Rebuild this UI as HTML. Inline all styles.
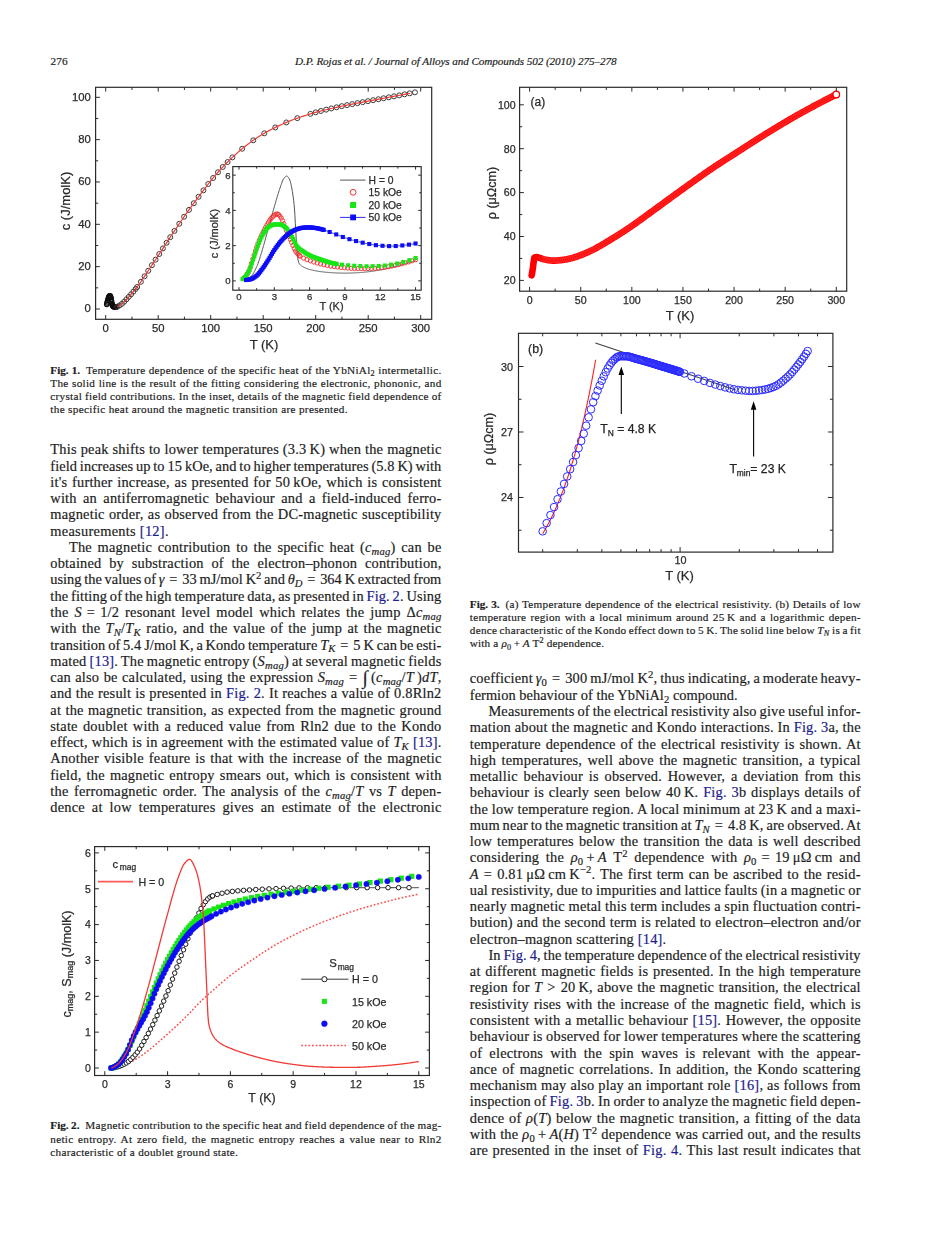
<!DOCTYPE html>
<html><head><meta charset="utf-8"><title>page 276</title>
<style>
html,body{margin:0;padding:0;background:#fff;}
body{width:926px;height:1234px;position:relative;overflow:hidden;font-family:"Liberation Serif",serif;color:#1c1c1c;}
.ln,.cp,.hd{position:absolute;white-space:nowrap;font-kerning:normal;-webkit-text-stroke:0.18px currentColor;}
.ln{font-size:14.4px;line-height:16.0px;height:16.0px;}
.cp{font-size:11.2px;line-height:13.0px;height:13.0px;}
.hd{font-size:11.2px;line-height:13.0px;height:13.0px;}
.lk{color:#20208c;}
b{letter-spacing:0;}
sub,sup{font-size:74%;line-height:0;position:relative;vertical-align:baseline;font-style:inherit;}
sub{top:0.28em;}
sup{top:-0.5em;}
.int{font-size:135%;line-height:0;position:relative;top:0.12em;}
svg{position:absolute;left:0;top:0;}
</style></head>
<body>
<svg width="926" height="1234" viewBox="0 0 926 1234"><defs><filter id="bl" x="-2%" y="-2%" width="104%" height="104%"><feGaussianBlur stdDeviation="0.45"/></filter></defs><g filter="url(#bl)">
<g fill="none" stroke="#111" stroke-width="1.1"><circle cx="106.75" cy="304.34" r="2.3"/><circle cx="107.12" cy="302.96" r="2.3"/><circle cx="107.48" cy="301.63" r="2.3"/><circle cx="107.85" cy="300.35" r="2.3"/><circle cx="108.22" cy="299" r="2.3"/><circle cx="108.59" cy="297.77" r="2.3"/><circle cx="108.95" cy="296.96" r="2.3"/><circle cx="109.32" cy="296.35" r="2.3"/><circle cx="109.69" cy="295.95" r="2.3"/><circle cx="110.06" cy="295.94" r="2.3"/><circle cx="110.43" cy="296.54" r="2.3"/><circle cx="110.79" cy="297.52" r="2.3"/><circle cx="111.16" cy="298.91" r="2.3"/><circle cx="111.53" cy="301.32" r="2.3"/><circle cx="111.9" cy="303.53" r="2.3"/><circle cx="112.26" cy="304.64" r="2.3"/><circle cx="112.63" cy="305.45" r="2.3"/><circle cx="113" cy="305.98" r="2.3"/><circle cx="113.37" cy="306.3" r="2.3"/><circle cx="113.73" cy="306.54" r="2.3"/><circle cx="114.1" cy="306.67" r="2.3"/><circle cx="114.47" cy="306.74" r="2.3"/><circle cx="114.84" cy="306.79" r="2.3"/><circle cx="115.2" cy="306.83" r="2.3"/><circle cx="115.57" cy="306.86" r="2.3"/><circle cx="115.94" cy="306.88" r="2.3"/></g>
<g fill="none" stroke="#3a3a3a" stroke-width="1.0"><circle cx="117.25" cy="306.71" r="2.5"/><circle cx="119.56" cy="305.47" r="2.5"/><circle cx="121.87" cy="303.83" r="2.5"/><circle cx="124.18" cy="301.71" r="2.5"/><circle cx="126.49" cy="299.27" r="2.5"/><circle cx="128.8" cy="296.84" r="2.5"/><circle cx="131.11" cy="294.29" r="2.5"/><circle cx="133.42" cy="291.64" r="2.5"/><circle cx="135.73" cy="288.86" r="2.5"/><circle cx="137.2" cy="286.98" r="2.5"/><circle cx="140.88" cy="281.84" r="2.5"/><circle cx="144.55" cy="276.3" r="2.5"/><circle cx="148.22" cy="270.75" r="2.5"/><circle cx="151.9" cy="265.22" r="2.5"/><circle cx="155.57" cy="259.65" r="2.5"/><circle cx="159.25" cy="254.05" r="2.5"/><circle cx="162.93" cy="248.4" r="2.5"/><circle cx="166.6" cy="242.76" r="2.5"/><circle cx="170.28" cy="237.18" r="2.5"/><circle cx="174.48" cy="230.88" r="2.5"/><circle cx="179.31" cy="223.74" r="2.5"/><circle cx="184.13" cy="216.74" r="2.5"/><circle cx="188.96" cy="209.89" r="2.5"/><circle cx="193.79" cy="203.25" r="2.5"/><circle cx="198.62" cy="196.78" r="2.5"/><circle cx="203.45" cy="190.33" r="2.5"/><circle cx="208.28" cy="183.97" r="2.5"/><circle cx="213.11" cy="177.97" r="2.5"/><circle cx="217.94" cy="172.27" r="2.5"/><circle cx="222.77" cy="166.96" r="2.5"/><circle cx="227.6" cy="162.02" r="2.5"/><circle cx="232.43" cy="157.37" r="2.5"/><circle cx="242.2" cy="148.74" r="2.5"/><circle cx="253.23" cy="140.33" r="2.5"/><circle cx="264.25" cy="133.31" r="2.5"/><circle cx="275.28" cy="127.43" r="2.5"/><circle cx="286.3" cy="122.44" r="2.5"/><circle cx="297.32" cy="118.15" r="2.5"/><circle cx="310.45" cy="113.85" r="2.5"/><circle cx="315.67" cy="112.34" r="2.5"/><circle cx="320.9" cy="110.96" r="2.5"/><circle cx="326.12" cy="109.67" r="2.5"/><circle cx="331.35" cy="108.44" r="2.5"/><circle cx="336.57" cy="107.28" r="2.5"/><circle cx="341.79" cy="106.17" r="2.5"/><circle cx="347.02" cy="105.12" r="2.5"/><circle cx="352.24" cy="104.11" r="2.5"/><circle cx="357.46" cy="103.13" r="2.5"/><circle cx="362.69" cy="102.15" r="2.5"/><circle cx="367.91" cy="101.17" r="2.5"/><circle cx="373.13" cy="100.18" r="2.5"/><circle cx="378.36" cy="99.22" r="2.5"/><circle cx="383.58" cy="98.26" r="2.5"/><circle cx="388.81" cy="97.29" r="2.5"/><circle cx="394.03" cy="96.32" r="2.5"/><circle cx="399.25" cy="95.33" r="2.5"/><circle cx="404.48" cy="94.34" r="2.5"/><circle cx="409.7" cy="93.33" r="2.5"/><circle cx="414.93" cy="92.32" r="2.5"/></g>
<polyline points="117.25,306.71 119.36,305.61 121.47,304.12 123.57,302.32 125.68,300.12 127.79,297.92 129.9,295.65 132,293.27 134.11,290.82 136.22,288.25 138.33,285.47 140.43,282.48 142.54,279.35 144.65,276.15 146.76,272.95 148.86,269.79 150.97,266.62 153.08,263.44 155.19,260.24 157.29,257.03 159.4,253.82 161.51,250.58 163.62,247.34 165.72,244.1 167.83,240.88 169.94,237.69 172.05,234.52 174.15,231.36 176.26,228.22 178.37,225.11 180.48,222.03 182.58,218.98 184.69,215.94 186.8,212.94 188.91,209.97 191.01,207.05 193.12,204.17 195.23,201.32 197.34,198.5 199.44,195.69 201.55,192.88 203.66,190.06 205.77,187.26 207.87,184.5 209.98,181.81 212.09,179.21 214.2,176.66 216.31,174.17 218.41,171.74 220.52,169.38 222.63,167.11 224.74,164.91 226.84,162.77 228.95,160.69 231.06,158.67 233.17,156.68 235.27,154.75 237.38,152.86 239.49,151.02 241.6,149.24 243.7,147.52 245.81,145.84 247.92,144.2 250.03,142.62 252.13,141.1 254.24,139.63 256.35,138.21 258.46,136.84 260.56,135.52 262.67,134.24 264.78,133 266.89,131.81 268.99,130.65 271.1,129.54 273.21,128.46 275.32,127.41 277.42,126.4 279.53,125.41 281.64,124.46 283.75,123.54 285.85,122.63 287.96,121.75 290.07,120.89 292.18,120.06 294.28,119.26 296.39,118.49 298.5,117.74 300.61,117.02 302.71,116.31 304.82,115.63 306.93,114.95 309.04,114.29 311.14,113.64 313.25,113.02 315.36,112.42 317.47,111.85 319.58,111.3 321.68,110.76 323.79,110.23 325.9,109.72 328.01,109.22 330.11,108.72 332.22,108.24 334.33,107.77 336.44,107.31 338.54,106.85 340.65,106.41 342.76,105.98 344.87,105.55 346.97,105.13 349.08,104.72 351.19,104.31 353.3,103.91 355.4,103.51 357.51,103.12 359.62,102.72 361.73,102.33 363.83,101.93 365.94,101.54 368.05,101.14 370.16,100.74 372.26,100.35 374.37,99.95 376.48,99.56 378.59,99.17 380.69,98.79 382.8,98.4 384.91,98.01 387.02,97.63 389.12,97.24 391.23,96.84 393.34,96.45 395.45,96.05 397.55,95.65 399.66,95.25 401.77,94.85 403.88,94.45 405.98,94.05 408.09,93.64 410.2,93.24" fill="none" stroke="#ee3b34" stroke-width="1.2" stroke-linejoin="round" />
<rect x="95.6" y="87.3" width="336.1" height="232" fill="none" stroke="#2a2a2a" stroke-width="1.2"/>
<line x1="105.7" y1="319.3" x2="105.7" y2="315" stroke="#2a2a2a" stroke-width="1.0" /><line x1="158.2" y1="319.3" x2="158.2" y2="315" stroke="#2a2a2a" stroke-width="1.0" /><line x1="210.7" y1="319.3" x2="210.7" y2="315" stroke="#2a2a2a" stroke-width="1.0" /><line x1="263.2" y1="319.3" x2="263.2" y2="315" stroke="#2a2a2a" stroke-width="1.0" /><line x1="315.7" y1="319.3" x2="315.7" y2="315" stroke="#2a2a2a" stroke-width="1.0" /><line x1="368.2" y1="319.3" x2="368.2" y2="315" stroke="#2a2a2a" stroke-width="1.0" /><line x1="420.7" y1="319.3" x2="420.7" y2="315" stroke="#2a2a2a" stroke-width="1.0" />
<line x1="131.95" y1="319.3" x2="131.95" y2="316.7" stroke="#2a2a2a" stroke-width="1.0" /><line x1="184.45" y1="319.3" x2="184.45" y2="316.7" stroke="#2a2a2a" stroke-width="1.0" /><line x1="236.95" y1="319.3" x2="236.95" y2="316.7" stroke="#2a2a2a" stroke-width="1.0" /><line x1="289.45" y1="319.3" x2="289.45" y2="316.7" stroke="#2a2a2a" stroke-width="1.0" /><line x1="341.95" y1="319.3" x2="341.95" y2="316.7" stroke="#2a2a2a" stroke-width="1.0" /><line x1="394.45" y1="319.3" x2="394.45" y2="316.7" stroke="#2a2a2a" stroke-width="1.0" />
<line x1="105.7" y1="87.3" x2="105.7" y2="91.6" stroke="#2a2a2a" stroke-width="1.0" /><line x1="158.2" y1="87.3" x2="158.2" y2="91.6" stroke="#2a2a2a" stroke-width="1.0" /><line x1="210.7" y1="87.3" x2="210.7" y2="91.6" stroke="#2a2a2a" stroke-width="1.0" /><line x1="263.2" y1="87.3" x2="263.2" y2="91.6" stroke="#2a2a2a" stroke-width="1.0" /><line x1="315.7" y1="87.3" x2="315.7" y2="91.6" stroke="#2a2a2a" stroke-width="1.0" /><line x1="368.2" y1="87.3" x2="368.2" y2="91.6" stroke="#2a2a2a" stroke-width="1.0" /><line x1="420.7" y1="87.3" x2="420.7" y2="91.6" stroke="#2a2a2a" stroke-width="1.0" />
<line x1="131.95" y1="87.3" x2="131.95" y2="89.9" stroke="#2a2a2a" stroke-width="1.0" /><line x1="184.45" y1="87.3" x2="184.45" y2="89.9" stroke="#2a2a2a" stroke-width="1.0" /><line x1="236.95" y1="87.3" x2="236.95" y2="89.9" stroke="#2a2a2a" stroke-width="1.0" /><line x1="289.45" y1="87.3" x2="289.45" y2="89.9" stroke="#2a2a2a" stroke-width="1.0" /><line x1="341.95" y1="87.3" x2="341.95" y2="89.9" stroke="#2a2a2a" stroke-width="1.0" /><line x1="394.45" y1="87.3" x2="394.45" y2="89.9" stroke="#2a2a2a" stroke-width="1.0" />
<line x1="95.6" y1="309" x2="99.9" y2="309" stroke="#2a2a2a" stroke-width="1.0" /><line x1="95.6" y1="266.66" x2="99.9" y2="266.66" stroke="#2a2a2a" stroke-width="1.0" /><line x1="95.6" y1="224.32" x2="99.9" y2="224.32" stroke="#2a2a2a" stroke-width="1.0" /><line x1="95.6" y1="181.98" x2="99.9" y2="181.98" stroke="#2a2a2a" stroke-width="1.0" /><line x1="95.6" y1="139.64" x2="99.9" y2="139.64" stroke="#2a2a2a" stroke-width="1.0" /><line x1="95.6" y1="97.3" x2="99.9" y2="97.3" stroke="#2a2a2a" stroke-width="1.0" />
<line x1="95.6" y1="287.83" x2="98.2" y2="287.83" stroke="#2a2a2a" stroke-width="1.0" /><line x1="95.6" y1="245.49" x2="98.2" y2="245.49" stroke="#2a2a2a" stroke-width="1.0" /><line x1="95.6" y1="203.15" x2="98.2" y2="203.15" stroke="#2a2a2a" stroke-width="1.0" /><line x1="95.6" y1="160.81" x2="98.2" y2="160.81" stroke="#2a2a2a" stroke-width="1.0" /><line x1="95.6" y1="118.47" x2="98.2" y2="118.47" stroke="#2a2a2a" stroke-width="1.0" />
<text x="105.7" y="331.6" font-family="Liberation Sans, sans-serif" font-size="11.3" text-anchor="middle" fill="#2a2a2a" stroke="#2a2a2a" stroke-width="0.25" >0</text>
<text x="158.2" y="331.6" font-family="Liberation Sans, sans-serif" font-size="11.3" text-anchor="middle" fill="#2a2a2a" stroke="#2a2a2a" stroke-width="0.25" >50</text>
<text x="210.7" y="331.6" font-family="Liberation Sans, sans-serif" font-size="11.3" text-anchor="middle" fill="#2a2a2a" stroke="#2a2a2a" stroke-width="0.25" >100</text>
<text x="263.2" y="331.6" font-family="Liberation Sans, sans-serif" font-size="11.3" text-anchor="middle" fill="#2a2a2a" stroke="#2a2a2a" stroke-width="0.25" >150</text>
<text x="315.7" y="331.6" font-family="Liberation Sans, sans-serif" font-size="11.3" text-anchor="middle" fill="#2a2a2a" stroke="#2a2a2a" stroke-width="0.25" >200</text>
<text x="368.2" y="331.6" font-family="Liberation Sans, sans-serif" font-size="11.3" text-anchor="middle" fill="#2a2a2a" stroke="#2a2a2a" stroke-width="0.25" >250</text>
<text x="420.7" y="331.6" font-family="Liberation Sans, sans-serif" font-size="11.3" text-anchor="middle" fill="#2a2a2a" stroke="#2a2a2a" stroke-width="0.25" >300</text>
<text x="90.8" y="312.3" font-family="Liberation Sans, sans-serif" font-size="11.3" text-anchor="end" fill="#2a2a2a" stroke="#2a2a2a" stroke-width="0.25" >0</text>
<text x="90.8" y="269.96" font-family="Liberation Sans, sans-serif" font-size="11.3" text-anchor="end" fill="#2a2a2a" stroke="#2a2a2a" stroke-width="0.25" >20</text>
<text x="90.8" y="227.62" font-family="Liberation Sans, sans-serif" font-size="11.3" text-anchor="end" fill="#2a2a2a" stroke="#2a2a2a" stroke-width="0.25" >40</text>
<text x="90.8" y="185.28" font-family="Liberation Sans, sans-serif" font-size="11.3" text-anchor="end" fill="#2a2a2a" stroke="#2a2a2a" stroke-width="0.25" >60</text>
<text x="90.8" y="142.94" font-family="Liberation Sans, sans-serif" font-size="11.3" text-anchor="end" fill="#2a2a2a" stroke="#2a2a2a" stroke-width="0.25" >80</text>
<text x="90.8" y="100.6" font-family="Liberation Sans, sans-serif" font-size="11.3" text-anchor="end" fill="#2a2a2a" stroke="#2a2a2a" stroke-width="0.25" >100</text>
<text x="264" y="348.5" font-family="Liberation Sans, sans-serif" font-size="13" text-anchor="middle" fill="#2a2a2a" stroke="#2a2a2a" stroke-width="0.25" >T (K)</text>
<text transform="translate(69.8 201) rotate(-90)" font-family="Liberation Sans, sans-serif" font-size="13" text-anchor="middle" fill="#2a2a2a" stroke="#2a2a2a" stroke-width="0.25">c (J/molK)</text>
<rect x="232.8" y="166.6" width="188.4" height="123.6" fill="#fff" stroke="#2a2a2a" stroke-width="1.15"/>
<polyline points="244.88,279.14 245.31,279.12 245.74,279.06 246.17,278.97 246.6,278.85 247.02,278.69 247.45,278.51 247.88,278.31 248.31,278.08 248.73,277.84 249.16,277.58 249.59,277.3 250.02,277.02 250.45,276.72 250.87,276.42 251.3,276.05 251.73,275.61 252.16,275.09 252.58,274.51 253.01,273.86 253.44,273.16 253.87,272.41 254.3,271.62 254.72,270.8 255.15,269.94 255.58,269.07 256.01,268.17 256.43,267.27 256.86,266.35 257.29,265.35 257.72,264.28 258.14,263.13 258.57,261.92 259,260.66 259.43,259.35 259.86,258 260.28,256.62 260.71,255.22 261.14,253.81 261.57,252.38 261.99,250.96 262.42,249.55 262.85,248.14 263.28,246.7 263.71,245.22 264.13,243.72 264.56,242.19 264.99,240.64 265.42,239.07 265.84,237.5 266.27,235.91 266.7,234.33 267.13,232.75 267.55,231.17 267.98,229.61 268.41,228.06 268.84,226.52 269.27,224.97 269.69,223.42 270.12,221.86 270.55,220.3 270.98,218.74 271.4,217.18 271.83,215.63 272.26,214.09 272.69,212.55 273.12,211.03 273.54,209.52 273.97,208.03 274.4,206.55 274.83,205.07 275.25,203.59 275.68,202.1 276.11,200.61 276.54,199.14 276.96,197.67 277.39,196.22 277.82,194.79 278.25,193.39 278.68,192.02 279.1,190.68 279.53,189.38 279.96,188.13 280.39,186.92 280.81,185.68 281.24,184.42 281.67,183.19 282.1,182.02 282.53,180.94 282.95,179.97 283.38,179.16 283.81,178.54 284.24,177.98 284.66,177.44 285.09,176.95 285.52,176.54 285.95,176.23 286.37,176.04 286.8,176.01 287.23,176.17 287.66,176.51 288.09,177 288.51,177.6 288.94,178.31 289.37,179.07 289.8,179.93 290.22,181.17 290.65,182.79 291.08,184.7 291.51,186.83 291.94,189.07 292.36,191.44 292.79,194.07 293.22,197.05 293.65,200.45 294.07,204.36 294.5,209.04 294.93,215.71 295.36,223.64 295.79,231.71 296.21,238.93 296.64,246.29 297.07,252.56 297.5,256.2 297.92,259 298.35,261.21 298.78,262.74 299.21,263.55 299.63,264.14 300.06,264.65 300.49,265.1 300.92,265.47 301.35,265.8 301.77,266.09 302.2,266.34 302.63,266.58 303.06,266.8 303.48,267.02 303.91,267.24 304.34,267.46 304.77,267.67 305.2,267.87 305.62,268.06 306.05,268.24 306.48,268.41 306.91,268.58 307.33,268.73 307.76,268.88 308.19,269.02 308.62,269.15 309.04,269.28 309.47,269.4 309.9,269.52 310.33,269.63 310.76,269.74 311.18,269.85 311.61,269.95 312.04,270.05 312.47,270.15 312.89,270.25 313.32,270.35 313.75,270.44 314.18,270.53 314.61,270.62 315.03,270.71 315.46,270.79 315.89,270.88 316.32,270.96 316.74,271.03 317.17,271.11 317.6,271.18 318.03,271.25 318.45,271.32 318.88,271.39 319.31,271.45 319.74,271.51 320.17,271.57 320.59,271.63 321.02,271.69 321.45,271.74 321.88,271.79 322.3,271.84 322.73,271.89 323.16,271.94 323.59,271.99 324.02,272.04 324.44,272.09 324.87,272.13 325.3,272.18 325.73,272.22 326.15,272.27 326.58,272.31 327.01,272.35 327.44,272.39 327.86,272.43 328.29,272.47 328.72,272.5 329.15,272.54 329.58,272.57 330,272.6 330.43,272.63 330.86,272.66 331.29,272.69 331.71,272.72 332.14,272.74 332.57,272.76 333,272.78 333.43,272.8 333.85,272.82 334.28,272.84 334.71,272.86 335.14,272.88 335.56,272.9 335.99,272.91 336.42,272.93 336.85,272.95 337.28,272.97 337.7,272.98 338.13,273 338.56,273.02 338.99,273.03 339.41,273.04 339.84,273.06 340.27,273.07 340.7,273.08 341.12,273.09 341.55,273.1 341.98,273.11 342.41,273.12 342.84,273.13 343.26,273.13 343.69,273.14 344.12,273.14 344.55,273.14 344.97,273.14 345.4,273.14 345.83,273.14 346.26,273.14 346.69,273.13 347.11,273.13 347.54,273.12 347.97,273.11 348.4,273.1 348.82,273.09 349.25,273.08 349.68,273.07 350.11,273.06 350.53,273.04 350.96,273.03 351.39,273.01 351.82,273 352.25,272.98 352.67,272.96 353.1,272.95 353.53,272.93 353.96,272.91 354.38,272.89 354.81,272.87 355.24,272.86 355.67,272.84 356.1,272.82 356.52,272.8 356.95,272.78 357.38,272.76 357.81,272.73 358.23,272.71 358.66,272.68 359.09,272.65 359.52,272.62 359.94,272.59 360.37,272.56 360.8,272.52 361.23,272.48 361.66,272.45 362.08,272.41 362.51,272.37 362.94,272.33 363.37,272.28 363.79,272.24 364.22,272.2 364.65,272.15 365.08,272.11 365.51,272.06 365.93,272.01 366.36,271.97 366.79,271.92 367.22,271.87 367.64,271.83 368.07,271.78 368.5,271.73 368.93,271.68 369.35,271.63 369.78,271.58 370.21,271.53 370.64,271.47 371.07,271.42 371.49,271.36 371.92,271.3 372.35,271.24 372.78,271.18 373.2,271.12 373.63,271.06 374.06,270.99 374.49,270.93 374.92,270.86 375.34,270.8 375.77,270.73 376.2,270.66 376.63,270.59 377.05,270.52 377.48,270.45 377.91,270.38 378.34,270.3 378.77,270.23 379.19,270.16 379.62,270.08 380.05,270 380.48,269.93 380.9,269.85 381.33,269.77 381.76,269.68 382.19,269.6 382.61,269.51 383.04,269.42 383.47,269.33 383.9,269.24 384.33,269.15 384.75,269.05 385.18,268.96 385.61,268.86 386.04,268.76 386.46,268.66 386.89,268.56 387.32,268.46 387.75,268.36 388.18,268.26 388.6,268.16 389.03,268.05 389.46,267.95 389.89,267.85 390.31,267.74 390.74,267.64 391.17,267.53 391.6,267.43 392.02,267.32 392.45,267.22 392.88,267.11 393.31,267 393.74,266.89 394.16,266.78 394.59,266.67 395.02,266.56 395.45,266.45 395.87,266.34 396.3,266.22 396.73,266.11 397.16,265.99 397.59,265.88 398.01,265.76 398.44,265.65 398.87,265.53 399.3,265.41 399.72,265.29 400.15,265.17 400.58,265.05 401.01,264.93 401.43,264.81 401.86,264.69 402.29,264.57 402.72,264.45 403.15,264.33 403.57,264.21 404,264.09 404.43,263.97 404.86,263.84 405.28,263.72 405.71,263.6 406.14,263.47 406.57,263.35 407,263.22 407.42,263.1 407.85,262.97 408.28,262.85 408.71,262.72 409.13,262.59 409.56,262.46 409.99,262.34 410.42,262.21 410.84,262.08 411.27,261.95 411.7,261.82 412.13,261.69 412.56,261.56 412.98,261.42 413.41,261.29 413.84,261.16 414.27,261.03 414.69,260.89 415.12,260.76 415.55,260.63" fill="none" stroke="#555" stroke-width="1.0" stroke-linejoin="round" />
<g fill="none" stroke="#f03030" stroke-width="0.9"><circle cx="243.71" cy="278.26" r="2.1"/><circle cx="245" cy="277.26" r="2.1"/><circle cx="246.3" cy="275.63" r="2.1"/><circle cx="247.59" cy="273.55" r="2.1"/><circle cx="248.89" cy="271.12" r="2.1"/><circle cx="250.18" cy="267.6" r="2.1"/><circle cx="251.48" cy="263.36" r="2.1"/><circle cx="252.77" cy="259.07" r="2.1"/><circle cx="254.07" cy="255.1" r="2.1"/><circle cx="255.36" cy="251.04" r="2.1"/><circle cx="256.65" cy="247.12" r="2.1"/><circle cx="257.95" cy="243.58" r="2.1"/><circle cx="259.24" cy="240.42" r="2.1"/><circle cx="260.54" cy="237.5" r="2.1"/><circle cx="261.83" cy="234.75" r="2.1"/><circle cx="263.13" cy="232.11" r="2.1"/><circle cx="264.42" cy="229.56" r="2.1"/><circle cx="265.72" cy="227.15" r="2.1"/><circle cx="267.01" cy="224.88" r="2.1"/><circle cx="268.31" cy="222.69" r="2.1"/><circle cx="269.6" cy="220.53" r="2.1"/><circle cx="270.9" cy="218.63" r="2.1"/><circle cx="272.19" cy="217.21" r="2.1"/><circle cx="273.49" cy="216" r="2.1"/><circle cx="274.78" cy="214.92" r="2.1"/><circle cx="276.08" cy="214.16" r="2.1"/><circle cx="277.37" cy="213.91" r="2.1"/><circle cx="278.66" cy="214.64" r="2.1"/><circle cx="279.96" cy="216.22" r="2.1"/><circle cx="281.25" cy="218.14" r="2.1"/><circle cx="282.55" cy="220.56" r="2.1"/><circle cx="283.84" cy="223.85" r="2.1"/><circle cx="285.14" cy="227.4" r="2.1"/><circle cx="286.43" cy="230.59" r="2.1"/><circle cx="287.73" cy="233.54" r="2.1"/><circle cx="289.02" cy="236.42" r="2.1"/><circle cx="290.32" cy="239.3" r="2.1"/><circle cx="291.61" cy="242.29" r="2.1"/><circle cx="292.91" cy="245.5" r="2.1"/><circle cx="294.2" cy="248.53" r="2.1"/><circle cx="295.5" cy="250.93" r="2.1"/><circle cx="296.79" cy="252.75" r="2.1"/><circle cx="298.09" cy="254.31" r="2.1"/><circle cx="299.38" cy="255.58" r="2.1"/><circle cx="300.2" cy="256.22" r="2.1"/><circle cx="303.6" cy="258.2" r="2.1"/><circle cx="306.99" cy="259.65" r="2.1"/><circle cx="310.38" cy="260.9" r="2.1"/><circle cx="313.77" cy="262.05" r="2.1"/><circle cx="317.17" cy="263.06" r="2.1"/><circle cx="320.56" cy="263.95" r="2.1"/><circle cx="323.95" cy="264.74" r="2.1"/><circle cx="327.34" cy="265.44" r="2.1"/><circle cx="330.74" cy="266.06" r="2.1"/><circle cx="334.13" cy="266.59" r="2.1"/><circle cx="337.52" cy="267.06" r="2.1"/><circle cx="340.91" cy="267.47" r="2.1"/><circle cx="344.31" cy="267.8" r="2.1"/><circle cx="347.7" cy="268.08" r="2.1"/><circle cx="351.09" cy="268.34" r="2.1"/><circle cx="354.48" cy="268.52" r="2.1"/><circle cx="357.88" cy="268.56" r="2.1"/><circle cx="361.27" cy="268.56" r="2.1"/><circle cx="364.66" cy="268.56" r="2.1"/><circle cx="368.05" cy="268.56" r="2.1"/><circle cx="371.45" cy="268.49" r="2.1"/><circle cx="374.84" cy="268.3" r="2.1"/><circle cx="378.23" cy="268.03" r="2.1"/><circle cx="381.62" cy="267.72" r="2.1"/><circle cx="385.02" cy="267.29" r="2.1"/><circle cx="388.41" cy="266.74" r="2.1"/><circle cx="391.8" cy="266.13" r="2.1"/><circle cx="395.19" cy="265.44" r="2.1"/><circle cx="398.59" cy="264.63" r="2.1"/><circle cx="401.98" cy="263.75" r="2.1"/><circle cx="405.37" cy="262.84" r="2.1"/><circle cx="408.76" cy="261.87" r="2.1"/><circle cx="412.16" cy="260.83" r="2.1"/><circle cx="415.55" cy="259.74" r="2.1"/></g>
<g fill="#19e619"><rect x="240.48" y="277.09" width="4.1" height="4.1"/><rect x="241.66" y="276.36" width="4.1" height="4.1"/><rect x="242.83" y="275.2" width="4.1" height="4.1"/><rect x="244.01" y="273.7" width="4.1" height="4.1"/><rect x="245.19" y="271.95" width="4.1" height="4.1"/><rect x="246.37" y="270.03" width="4.1" height="4.1"/><rect x="247.54" y="267.62" width="4.1" height="4.1"/><rect x="248.72" y="264.53" width="4.1" height="4.1"/><rect x="249.9" y="261.11" width="4.1" height="4.1"/><rect x="251.07" y="257.69" width="4.1" height="4.1"/><rect x="252.25" y="254.21" width="4.1" height="4.1"/><rect x="253.43" y="250.51" width="4.1" height="4.1"/><rect x="254.61" y="246.88" width="4.1" height="4.1"/><rect x="255.78" y="243.59" width="4.1" height="4.1"/><rect x="256.96" y="240.61" width="4.1" height="4.1"/><rect x="258.14" y="237.79" width="4.1" height="4.1"/><rect x="259.31" y="235.22" width="4.1" height="4.1"/><rect x="260.49" y="233.01" width="4.1" height="4.1"/><rect x="261.67" y="231.03" width="4.1" height="4.1"/><rect x="262.84" y="229.16" width="4.1" height="4.1"/><rect x="264.02" y="227.48" width="4.1" height="4.1"/><rect x="265.2" y="226.09" width="4.1" height="4.1"/><rect x="266.38" y="225.08" width="4.1" height="4.1"/><rect x="267.55" y="224.3" width="4.1" height="4.1"/><rect x="268.73" y="223.58" width="4.1" height="4.1"/><rect x="269.91" y="222.98" width="4.1" height="4.1"/><rect x="271.08" y="222.58" width="4.1" height="4.1"/><rect x="272.26" y="222.43" width="4.1" height="4.1"/><rect x="273.44" y="222.43" width="4.1" height="4.1"/><rect x="274.61" y="222.43" width="4.1" height="4.1"/><rect x="275.79" y="222.43" width="4.1" height="4.1"/><rect x="276.97" y="222.43" width="4.1" height="4.1"/><rect x="278.14" y="222.43" width="4.1" height="4.1"/><rect x="279.32" y="222.64" width="4.1" height="4.1"/><rect x="280.5" y="223.19" width="4.1" height="4.1"/><rect x="281.68" y="223.99" width="4.1" height="4.1"/><rect x="282.85" y="224.95" width="4.1" height="4.1"/><rect x="284.03" y="225.96" width="4.1" height="4.1"/><rect x="285.21" y="227.21" width="4.1" height="4.1"/><rect x="286.38" y="228.87" width="4.1" height="4.1"/><rect x="287.56" y="230.77" width="4.1" height="4.1"/><rect x="288.74" y="232.79" width="4.1" height="4.1"/><rect x="289.92" y="234.77" width="4.1" height="4.1"/><rect x="291.09" y="236.91" width="4.1" height="4.1"/><rect x="292.27" y="239.29" width="4.1" height="4.1"/><rect x="293.45" y="241.66" width="4.1" height="4.1"/><rect x="294.62" y="243.76" width="4.1" height="4.1"/><rect x="295.8" y="245.35" width="4.1" height="4.1"/><rect x="296.98" y="246.48" width="4.1" height="4.1"/><rect x="298.15" y="247.42" width="4.1" height="4.1"/><rect x="299.33" y="248.24" width="4.1" height="4.1"/><rect x="300.51" y="249" width="4.1" height="4.1"/><rect x="301.69" y="249.76" width="4.1" height="4.1"/><rect x="302.86" y="250.54" width="4.1" height="4.1"/><rect x="304.04" y="251.3" width="4.1" height="4.1"/><rect x="305.22" y="252.02" width="4.1" height="4.1"/><rect x="306.39" y="252.69" width="4.1" height="4.1"/><rect x="307.57" y="253.29" width="4.1" height="4.1"/><rect x="308.75" y="253.83" width="4.1" height="4.1"/><rect x="309.92" y="254.33" width="4.1" height="4.1"/><rect x="311.1" y="254.81" width="4.1" height="4.1"/><rect x="312.28" y="255.26" width="4.1" height="4.1"/><rect x="313.45" y="255.7" width="4.1" height="4.1"/><rect x="314.63" y="256.11" width="4.1" height="4.1"/><rect x="315.81" y="256.52" width="4.1" height="4.1"/><rect x="316.99" y="256.91" width="4.1" height="4.1"/><rect x="318.16" y="257.3" width="4.1" height="4.1"/><rect x="319.34" y="257.69" width="4.1" height="4.1"/><rect x="320.52" y="258.09" width="4.1" height="4.1"/><rect x="321.69" y="258.49" width="4.1" height="4.1"/><rect x="322.87" y="258.88" width="4.1" height="4.1"/><rect x="324.05" y="259.27" width="4.1" height="4.1"/><rect x="325.23" y="259.65" width="4.1" height="4.1"/><rect x="326.4" y="260.02" width="4.1" height="4.1"/><rect x="327.58" y="260.36" width="4.1" height="4.1"/><rect x="328.76" y="260.68" width="4.1" height="4.1"/><rect x="329.93" y="260.97" width="4.1" height="4.1"/><rect x="331.11" y="261.22" width="4.1" height="4.1"/><rect x="332.29" y="261.45" width="4.1" height="4.1"/><rect x="333.46" y="261.67" width="4.1" height="4.1"/><rect x="334.64" y="261.87" width="4.1" height="4.1"/><rect x="339.94" y="262.65" width="4.1" height="4.1"/><rect x="346.07" y="263.28" width="4.1" height="4.1"/><rect x="352.2" y="263.74" width="4.1" height="4.1"/><rect x="358.33" y="264.02" width="4.1" height="4.1"/><rect x="364.46" y="264.2" width="4.1" height="4.1"/><rect x="370.59" y="264.16" width="4.1" height="4.1"/><rect x="376.72" y="263.93" width="4.1" height="4.1"/><rect x="382.85" y="263.47" width="4.1" height="4.1"/><rect x="388.98" y="262.61" width="4.1" height="4.1"/><rect x="395.11" y="261.46" width="4.1" height="4.1"/><rect x="401.24" y="259.94" width="4.1" height="4.1"/><rect x="407.37" y="258.12" width="4.1" height="4.1"/><rect x="413.5" y="255.93" width="4.1" height="4.1"/></g>
<polyline points="246.06,280.02 246.91,279.98 247.77,279.86 248.62,279.7 249.47,279.49 250.32,279.26 251.17,279.01 252.02,278.68 252.88,278.25 253.73,277.75 254.58,277.18 255.43,276.56 256.28,275.91 257.13,275.2 257.99,274.37 258.84,273.41 259.69,272.36 260.54,271.25 261.39,270.1 262.24,268.95 263.1,267.81 263.95,266.6 264.8,265.36 265.65,264.07 266.5,262.76 267.35,261.43 268.21,260.09 269.06,258.73 269.91,257.32 270.76,255.87 271.61,254.41 272.46,252.98 273.32,251.58 274.17,250.26 275.02,249 275.87,247.78 276.72,246.58 277.57,245.42 278.43,244.3 279.28,243.22 280.13,242.19 280.98,241.2 281.83,240.23 282.69,239.29 283.54,238.39 284.39,237.52 285.24,236.7 286.09,235.93 286.94,235.2 287.8,234.49 288.65,233.8 289.5,233.15 290.35,232.55 291.2,231.99 292.05,231.49 292.91,231.02 293.76,230.57 294.61,230.15 295.46,229.76 296.31,229.41 297.16,229.1 298.02,228.84 298.87,228.6 299.72,228.37 300.57,228.15 301.42,227.97 302.27,227.81 303.13,227.7 303.98,227.64 304.83,227.6 305.68,227.57 306.53,227.54 307.38,227.51 308.24,227.49 309.09,227.48 309.94,227.48 310.79,227.51 311.64,227.57 312.49,227.65 313.35,227.74 314.2,227.84 315.05,227.95 315.9,228.06 316.75,228.2 317.6,228.36 318.46,228.53 319.31,228.73 320.16,228.94 321.01,229.15 321.86,229.37 322.71,229.6 323.57,229.86 324.42,230.13 325.27,230.41 326.12,230.7 326.97,231.01 327.83,231.32 328.68,231.63 329.53,231.95 330.38,232.27 331.23,232.59 332.08,232.91 332.94,233.22 333.79,233.53 334.64,233.84 335.49,234.16 336.34,234.49 337.19,234.82 338.05,235.15 338.9,235.48 339.75,235.81 340.6,236.14 341.45,236.46 342.3,236.78 343.16,237.09 344.01,237.39 344.86,237.68 345.71,237.97 346.56,238.24 347.41,238.52 348.27,238.79 349.12,239.06 349.97,239.32 350.82,239.58 351.67,239.84 352.52,240.09 353.38,240.33 354.23,240.57 355.08,240.8 355.93,241.03 356.78,241.25 357.63,241.47 358.49,241.69 359.34,241.9 360.19,242.1 361.04,242.31 361.89,242.51 362.74,242.7 363.6,242.9 364.45,243.08 365.3,243.26 366.15,243.44 367,243.6 367.85,243.76 368.71,243.92 369.56,244.07 370.41,244.23 371.26,244.38 372.11,244.54 372.97,244.69 373.82,244.83 374.67,244.97 375.52,245.1 376.37,245.23 377.22,245.34 378.08,245.44 378.93,245.53 379.78,245.61 380.63,245.67 381.48,245.73 382.33,245.78 383.19,245.84 384.04,245.89 384.89,245.94 385.74,245.99 386.59,246.03 387.44,246.07 388.3,246.1 389.15,246.13 390,246.15 390.85,246.16 391.7,246.17 392.55,246.17 393.41,246.15 394.26,246.12 395.11,246.08 395.96,246.03 396.81,245.96 397.66,245.89 398.52,245.82 399.37,245.74 400.22,245.65 401.07,245.57 401.92,245.48 402.77,245.39 403.63,245.3 404.48,245.22 405.33,245.12 406.18,245.02 407.03,244.91 407.88,244.79 408.74,244.67 409.59,244.55 410.44,244.41 411.29,244.28 412.14,244.13 412.99,243.99 413.85,243.84 414.7,243.68 415.55,243.52" fill="none" stroke="#1414f0" stroke-width="0.8" stroke-linejoin="round" />
<g fill="#0a0af5"><rect x="244.01" y="277.97" width="4.1" height="4.1"/><rect x="245.19" y="277.89" width="4.1" height="4.1"/><rect x="246.37" y="277.69" width="4.1" height="4.1"/><rect x="247.54" y="277.41" width="4.1" height="4.1"/><rect x="248.72" y="277.09" width="4.1" height="4.1"/><rect x="249.9" y="276.66" width="4.1" height="4.1"/><rect x="251.07" y="276.06" width="4.1" height="4.1"/><rect x="252.25" y="275.32" width="4.1" height="4.1"/><rect x="253.43" y="274.48" width="4.1" height="4.1"/><rect x="254.6" y="273.56" width="4.1" height="4.1"/><rect x="255.78" y="272.48" width="4.1" height="4.1"/><rect x="256.96" y="271.15" width="4.1" height="4.1"/><rect x="258.14" y="269.67" width="4.1" height="4.1"/><rect x="259.31" y="268.09" width="4.1" height="4.1"/><rect x="260.49" y="266.51" width="4.1" height="4.1"/><rect x="261.67" y="264.88" width="4.1" height="4.1"/><rect x="262.84" y="263.16" width="4.1" height="4.1"/><rect x="264.02" y="261.37" width="4.1" height="4.1"/><rect x="265.2" y="259.54" width="4.1" height="4.1"/><rect x="266.38" y="257.69" width="4.1" height="4.1"/><rect x="267.55" y="255.78" width="4.1" height="4.1"/><rect x="268.73" y="253.79" width="4.1" height="4.1"/><rect x="269.91" y="251.78" width="4.1" height="4.1"/><rect x="271.08" y="249.83" width="4.1" height="4.1"/><rect x="272.26" y="248" width="4.1" height="4.1"/><rect x="273.44" y="246.28" width="4.1" height="4.1"/><rect x="274.61" y="244.61" width="4.1" height="4.1"/><rect x="275.79" y="243.02" width="4.1" height="4.1"/><rect x="276.97" y="241.5" width="4.1" height="4.1"/><rect x="278.14" y="240.06" width="4.1" height="4.1"/><rect x="279.32" y="238.7" width="4.1" height="4.1"/><rect x="280.5" y="237.39" width="4.1" height="4.1"/><rect x="281.68" y="236.14" width="4.1" height="4.1"/><rect x="282.85" y="234.97" width="4.1" height="4.1"/><rect x="284.03" y="233.89" width="4.1" height="4.1"/><rect x="285.21" y="232.88" width="4.1" height="4.1"/><rect x="286.38" y="231.92" width="4.1" height="4.1"/><rect x="287.56" y="231.02" width="4.1" height="4.1"/><rect x="288.74" y="230.2" width="4.1" height="4.1"/><rect x="289.91" y="229.49" width="4.1" height="4.1"/><rect x="291.09" y="228.84" width="4.1" height="4.1"/><rect x="292.27" y="228.24" width="4.1" height="4.1"/><rect x="293.45" y="227.7" width="4.1" height="4.1"/><rect x="294.62" y="227.23" width="4.1" height="4.1"/><rect x="295.8" y="226.84" width="4.1" height="4.1"/><rect x="296.98" y="226.51" width="4.1" height="4.1"/><rect x="298.15" y="226.19" width="4.1" height="4.1"/><rect x="299.33" y="225.92" width="4.1" height="4.1"/><rect x="300.51" y="225.72" width="4.1" height="4.1"/><rect x="301.68" y="225.61" width="4.1" height="4.1"/><rect x="302.86" y="225.55" width="4.1" height="4.1"/><rect x="304.04" y="225.5" width="4.1" height="4.1"/><rect x="305.22" y="225.46" width="4.1" height="4.1"/><rect x="306.39" y="225.44" width="4.1" height="4.1"/><rect x="307.57" y="225.43" width="4.1" height="4.1"/><rect x="308.75" y="225.46" width="4.1" height="4.1"/><rect x="309.92" y="225.55" width="4.1" height="4.1"/><rect x="311.1" y="225.67" width="4.1" height="4.1"/><rect x="312.28" y="225.81" width="4.1" height="4.1"/><rect x="313.45" y="225.96" width="4.1" height="4.1"/><rect x="314.63" y="226.14" width="4.1" height="4.1"/><rect x="315.81" y="226.36" width="4.1" height="4.1"/><rect x="316.99" y="226.62" width="4.1" height="4.1"/><rect x="318.16" y="226.9" width="4.1" height="4.1"/><rect x="319.34" y="227.19" width="4.1" height="4.1"/><rect x="320.52" y="227.51" width="4.1" height="4.1"/><rect x="321.69" y="227.86" width="4.1" height="4.1"/><rect x="327.58" y="229.94" width="4.1" height="4.1"/><rect x="334.19" y="232.4" width="4.1" height="4.1"/><rect x="340.8" y="234.93" width="4.1" height="4.1"/><rect x="347.41" y="237.12" width="4.1" height="4.1"/><rect x="354.02" y="239.02" width="4.1" height="4.1"/><rect x="360.63" y="240.64" width="4.1" height="4.1"/><rect x="367.23" y="241.97" width="4.1" height="4.1"/><rect x="373.84" y="243.11" width="4.1" height="4.1"/><rect x="380.45" y="243.74" width="4.1" height="4.1"/><rect x="387.06" y="244.08" width="4.1" height="4.1"/><rect x="393.67" y="243.99" width="4.1" height="4.1"/><rect x="400.28" y="243.39" width="4.1" height="4.1"/><rect x="406.89" y="242.59" width="4.1" height="4.1"/><rect x="413.5" y="241.47" width="4.1" height="4.1"/></g>
<line x1="239" y1="290.2" x2="239" y2="287.2" stroke="#2a2a2a" stroke-width="1.0" /><line x1="274.31" y1="290.2" x2="274.31" y2="287.2" stroke="#2a2a2a" stroke-width="1.0" /><line x1="309.62" y1="290.2" x2="309.62" y2="287.2" stroke="#2a2a2a" stroke-width="1.0" /><line x1="344.93" y1="290.2" x2="344.93" y2="287.2" stroke="#2a2a2a" stroke-width="1.0" /><line x1="380.24" y1="290.2" x2="380.24" y2="287.2" stroke="#2a2a2a" stroke-width="1.0" /><line x1="415.55" y1="290.2" x2="415.55" y2="287.2" stroke="#2a2a2a" stroke-width="1.0" />
<line x1="256.65" y1="290.2" x2="256.65" y2="288.2" stroke="#2a2a2a" stroke-width="1.0" /><line x1="291.96" y1="290.2" x2="291.96" y2="288.2" stroke="#2a2a2a" stroke-width="1.0" /><line x1="327.27" y1="290.2" x2="327.27" y2="288.2" stroke="#2a2a2a" stroke-width="1.0" /><line x1="362.58" y1="290.2" x2="362.58" y2="288.2" stroke="#2a2a2a" stroke-width="1.0" /><line x1="397.89" y1="290.2" x2="397.89" y2="288.2" stroke="#2a2a2a" stroke-width="1.0" />
<line x1="239" y1="166.6" x2="239" y2="169.6" stroke="#2a2a2a" stroke-width="1.0" /><line x1="274.31" y1="166.6" x2="274.31" y2="169.6" stroke="#2a2a2a" stroke-width="1.0" /><line x1="309.62" y1="166.6" x2="309.62" y2="169.6" stroke="#2a2a2a" stroke-width="1.0" /><line x1="344.93" y1="166.6" x2="344.93" y2="169.6" stroke="#2a2a2a" stroke-width="1.0" /><line x1="380.24" y1="166.6" x2="380.24" y2="169.6" stroke="#2a2a2a" stroke-width="1.0" /><line x1="415.55" y1="166.6" x2="415.55" y2="169.6" stroke="#2a2a2a" stroke-width="1.0" />
<line x1="256.65" y1="166.6" x2="256.65" y2="168.6" stroke="#2a2a2a" stroke-width="1.0" /><line x1="291.96" y1="166.6" x2="291.96" y2="168.6" stroke="#2a2a2a" stroke-width="1.0" /><line x1="327.27" y1="166.6" x2="327.27" y2="168.6" stroke="#2a2a2a" stroke-width="1.0" /><line x1="362.58" y1="166.6" x2="362.58" y2="168.6" stroke="#2a2a2a" stroke-width="1.0" /><line x1="397.89" y1="166.6" x2="397.89" y2="168.6" stroke="#2a2a2a" stroke-width="1.0" />
<line x1="232.8" y1="280.9" x2="235.8" y2="280.9" stroke="#2a2a2a" stroke-width="1.0" /><line x1="232.8" y1="245.64" x2="235.8" y2="245.64" stroke="#2a2a2a" stroke-width="1.0" /><line x1="232.8" y1="210.38" x2="235.8" y2="210.38" stroke="#2a2a2a" stroke-width="1.0" /><line x1="232.8" y1="175.12" x2="235.8" y2="175.12" stroke="#2a2a2a" stroke-width="1.0" />
<line x1="232.8" y1="263.27" x2="234.8" y2="263.27" stroke="#2a2a2a" stroke-width="1.0" /><line x1="232.8" y1="228.01" x2="234.8" y2="228.01" stroke="#2a2a2a" stroke-width="1.0" /><line x1="232.8" y1="192.75" x2="234.8" y2="192.75" stroke="#2a2a2a" stroke-width="1.0" />
<line x1="421.2" y1="280.9" x2="418.2" y2="280.9" stroke="#2a2a2a" stroke-width="1.0" /><line x1="421.2" y1="245.64" x2="418.2" y2="245.64" stroke="#2a2a2a" stroke-width="1.0" /><line x1="421.2" y1="210.38" x2="418.2" y2="210.38" stroke="#2a2a2a" stroke-width="1.0" /><line x1="421.2" y1="175.12" x2="418.2" y2="175.12" stroke="#2a2a2a" stroke-width="1.0" />
<line x1="421.2" y1="263.27" x2="419.2" y2="263.27" stroke="#2a2a2a" stroke-width="1.0" /><line x1="421.2" y1="228.01" x2="419.2" y2="228.01" stroke="#2a2a2a" stroke-width="1.0" /><line x1="421.2" y1="192.75" x2="419.2" y2="192.75" stroke="#2a2a2a" stroke-width="1.0" />
<text x="239" y="300.3" font-family="Liberation Sans, sans-serif" font-size="9.6" text-anchor="middle" fill="#2a2a2a" stroke="#2a2a2a" stroke-width="0.25" >0</text>
<text x="274.31" y="300.3" font-family="Liberation Sans, sans-serif" font-size="9.6" text-anchor="middle" fill="#2a2a2a" stroke="#2a2a2a" stroke-width="0.25" >3</text>
<text x="309.62" y="300.3" font-family="Liberation Sans, sans-serif" font-size="9.6" text-anchor="middle" fill="#2a2a2a" stroke="#2a2a2a" stroke-width="0.25" >6</text>
<text x="344.93" y="300.3" font-family="Liberation Sans, sans-serif" font-size="9.6" text-anchor="middle" fill="#2a2a2a" stroke="#2a2a2a" stroke-width="0.25" >9</text>
<text x="380.24" y="300.3" font-family="Liberation Sans, sans-serif" font-size="9.6" text-anchor="middle" fill="#2a2a2a" stroke="#2a2a2a" stroke-width="0.25" >12</text>
<text x="415.55" y="300.3" font-family="Liberation Sans, sans-serif" font-size="9.6" text-anchor="middle" fill="#2a2a2a" stroke="#2a2a2a" stroke-width="0.25" >15</text>
<text x="230.5" y="284.3" font-family="Liberation Sans, sans-serif" font-size="9.6" text-anchor="end" fill="#2a2a2a" stroke="#2a2a2a" stroke-width="0.25" >0</text>
<text x="230.5" y="249.04" font-family="Liberation Sans, sans-serif" font-size="9.6" text-anchor="end" fill="#2a2a2a" stroke="#2a2a2a" stroke-width="0.25" >2</text>
<text x="230.5" y="213.78" font-family="Liberation Sans, sans-serif" font-size="9.6" text-anchor="end" fill="#2a2a2a" stroke="#2a2a2a" stroke-width="0.25" >4</text>
<text x="230.5" y="178.52" font-family="Liberation Sans, sans-serif" font-size="9.6" text-anchor="end" fill="#2a2a2a" stroke="#2a2a2a" stroke-width="0.25" >6</text>
<text x="331.5" y="309.6" font-family="Liberation Sans, sans-serif" font-size="11" text-anchor="middle" fill="#2a2a2a" stroke="#2a2a2a" stroke-width="0.25" >T (K)</text>
<text transform="translate(217.8 233.5) rotate(-90)" font-family="Liberation Sans, sans-serif" font-size="11" text-anchor="middle" fill="#2a2a2a" stroke="#2a2a2a" stroke-width="0.25">c (J/molK)</text>
<line x1="340.1" y1="180.1" x2="365.5" y2="180.1" stroke="#555" stroke-width="1.0" />
<text x="368.6" y="183.9" font-family="Liberation Sans, sans-serif" font-size="10.3" text-anchor="start" fill="#2a2a2a" stroke="#2a2a2a" stroke-width="0.25" >H = 0</text>
<g fill="none" stroke="#f03030" stroke-width="1.0"><circle cx="353.1" cy="192.3" r="2.9"/></g>
<text x="368.6" y="196.2" font-family="Liberation Sans, sans-serif" font-size="10.3" text-anchor="start" fill="#2a2a2a" stroke="#2a2a2a" stroke-width="0.25" >15 kOe</text>
<g fill="#19e619"><rect x="350.1" y="202" width="6.0" height="6.0"/></g>
<text x="368.6" y="208.8" font-family="Liberation Sans, sans-serif" font-size="10.3" text-anchor="start" fill="#2a2a2a" stroke="#2a2a2a" stroke-width="0.25" >20 kOe</text>
<line x1="340.1" y1="217.4" x2="365.5" y2="217.4" stroke="#1414f0" stroke-width="0.9" />
<g fill="#0a0af5"><rect x="350.2" y="214.5" width="5.8" height="5.8"/></g>
<text x="368.6" y="221.3" font-family="Liberation Sans, sans-serif" font-size="10.3" text-anchor="start" fill="#2a2a2a" stroke="#2a2a2a" stroke-width="0.25" >50 kOe</text>
<polyline points="115.27,1067.28 116.79,1067.01 118.32,1066.68 119.84,1066.3 121.37,1065.86 122.89,1065.39 124.42,1064.88 125.94,1064.34 127.47,1063.73 128.99,1063.03 130.52,1062.26 132.04,1061.44 133.57,1060.57 135.09,1059.69 136.62,1058.79 138.14,1057.85 139.67,1056.86 141.19,1055.83 142.72,1054.76 144.24,1053.66 145.77,1052.54 147.29,1051.39 148.82,1050.21 150.34,1049 151.87,1047.76 153.39,1046.49 154.92,1045.19 156.44,1043.88 157.97,1042.55 159.49,1041.2 161.02,1039.85 162.54,1038.48 164.07,1037.11 165.59,1035.74 167.12,1034.37 168.64,1033 170.17,1031.62 171.69,1030.24 173.22,1028.84 174.74,1027.44 176.27,1026.03 177.79,1024.61 179.32,1023.17 180.84,1021.72 182.37,1020.26 183.89,1018.79 185.42,1017.3 186.94,1015.8 188.47,1014.28 189.99,1012.72 191.52,1011.1 193.04,1009.44 194.57,1007.78 196.09,1006.12 197.62,1004.49 199.14,1002.92 200.67,1001.42 202.19,999.97 203.72,998.56 205.24,997.17 206.77,995.81 208.29,994.46 209.82,993.11 211.34,991.75 212.87,990.39 214.39,989.04 215.92,987.69 217.44,986.35 218.97,985.02 220.49,983.69 222.02,982.38 223.54,981.08 225.07,979.8 226.59,978.54 228.12,977.3 229.64,976.09 231.17,974.89 232.69,973.72 234.22,972.56 235.74,971.43 237.27,970.3 238.79,969.19 240.32,968.1 241.84,967.01 243.37,965.94 244.89,964.87 246.42,963.81 247.94,962.76 249.47,961.71 250.99,960.67 252.52,959.62 254.04,958.59 255.57,957.55 257.09,956.52 258.62,955.5 260.14,954.48 261.67,953.48 263.19,952.48 264.72,951.49 266.24,950.52 267.77,949.56 269.3,948.61 270.82,947.68 272.35,946.76 273.87,945.86 275.4,944.97 276.92,944.09 278.45,943.22 279.97,942.36 281.5,941.51 283.02,940.67 284.55,939.85 286.07,939.03 287.6,938.22 289.12,937.42 290.65,936.64 292.17,935.86 293.7,935.09 295.22,934.33 296.75,933.59 298.27,932.85 299.8,932.12 301.32,931.39 302.85,930.68 304.37,929.98 305.9,929.28 307.42,928.59 308.95,927.91 310.47,927.24 312,926.58 313.52,925.92 315.05,925.27 316.57,924.63 318.1,924 319.62,923.38 321.15,922.76 322.67,922.15 324.2,921.54 325.72,920.95 327.25,920.35 328.77,919.77 330.3,919.19 331.82,918.62 333.35,918.05 334.87,917.49 336.4,916.93 337.92,916.38 339.45,915.83 340.97,915.29 342.5,914.75 344.02,914.22 345.55,913.69 347.07,913.17 348.6,912.66 350.12,912.15 351.65,911.64 353.17,911.15 354.7,910.66 356.22,910.18 357.75,909.7 359.27,909.23 360.8,908.77 362.32,908.31 363.85,907.86 365.37,907.41 366.9,906.97 368.42,906.53 369.95,906.09 371.47,905.66 373,905.24 374.52,904.82 376.05,904.4 377.57,903.98 379.1,903.57 380.62,903.16 382.15,902.75 383.67,902.35 385.2,901.95 386.72,901.55 388.25,901.16 389.77,900.77 391.3,900.38 392.82,900 394.35,899.63 395.87,899.26 397.4,898.89 398.92,898.53 400.45,898.17 401.97,897.81 403.5,897.46 405.02,897.11 406.55,896.76 408.07,896.42 409.6,896.08 411.12,895.74 412.65,895.41 414.17,895.09 415.7,894.76 417.22,894.44 418.75,894.13" fill="none" stroke="#ff4848" stroke-width="1.5" stroke-linejoin="round" stroke-dasharray="1.7 1.9"/>
<polyline points="111.08,1068 112.11,1067.91 113.14,1067.78 114.17,1067.61 115.19,1067.41 116.22,1067.19 117.25,1066.95 118.28,1066.68 119.31,1066.36 120.34,1065.98 121.37,1065.56 122.4,1065.1 123.43,1064.59 124.46,1064.05 125.48,1063.48 126.51,1062.86 127.54,1062.16 128.57,1061.38 129.6,1060.52 130.63,1059.6 131.66,1058.61 132.69,1057.57 133.72,1056.48 134.75,1055.34 135.78,1054.15 136.8,1052.91 137.83,1051.52 138.86,1050 139.89,1048.37 140.92,1046.66 141.95,1044.91 142.98,1043.13 144.01,1041.35 145.04,1039.54 146.06,1037.68 147.09,1035.76 148.12,1033.81 149.15,1031.82 150.18,1029.8 151.21,1027.75 152.24,1025.67 153.27,1023.58 154.3,1021.47 155.33,1019.35 156.35,1017.2 157.38,1015.04 158.41,1012.85 159.44,1010.64 160.47,1008.4 161.5,1006.13 162.53,1003.83 163.56,1001.49 164.59,999.13 165.62,996.72 166.64,994.28 167.67,991.79 168.7,989.23 169.73,986.58 170.76,983.86 171.79,981.09 172.82,978.27 173.85,975.44 174.88,972.61 175.91,969.79 176.94,967.01 177.96,964.27 178.99,961.58 180.02,958.88 181.05,956.19 182.08,953.51 183.11,950.84 184.14,948.18 185.17,945.55 186.2,942.94 187.22,940.35 188.25,937.8 189.28,935.28 190.31,932.76 191.34,930.25 192.37,927.78 193.4,925.33 194.43,922.94 195.46,920.59 196.49,918.31 197.51,916.08 198.54,913.82 199.57,911.58 200.6,909.44 201.63,907.44 202.66,905.67 203.69,904.13 204.72,902.65 205.75,901.25 206.78,899.95 207.8,898.8 208.83,897.84 209.86,897.11 210.89,896.59 211.92,896.13 212.95,895.72 213.98,895.36 215.01,895.04 216.04,894.75 217.07,894.48 218.09,894.22 219.12,893.97 220.15,893.71 221.18,893.45 222.21,893.2 223.24,892.95 224.27,892.72 225.3,892.5 226.33,892.29 227.36,892.09 228.38,891.91 229.41,891.75 230.44,891.61 231.47,891.48 232.5,891.36 233.53,891.25 234.56,891.14 235.59,891.03 236.62,890.93 237.65,890.83 238.67,890.74 239.7,890.65 240.73,890.57 241.76,890.49 242.79,890.41 243.82,890.33 244.85,890.26 245.88,890.18 246.91,890.11 247.94,890.04 248.96,889.98 249.99,889.91 251.02,889.84 252.05,889.78 253.08,889.71 254.11,889.65 255.14,889.59 256.17,889.53 257.2,889.47 258.23,889.41 259.25,889.36 260.28,889.3 261.31,889.25 262.34,889.2 263.37,889.15 264.4,889.1 265.43,889.05 266.46,889 267.49,888.95 268.52,888.91 269.54,888.86 270.57,888.82 271.6,888.78 272.63,888.73 273.66,888.69 274.69,888.65 275.72,888.61 276.75,888.57 277.78,888.53 278.81,888.49 279.83,888.45 280.86,888.41 281.89,888.37 282.92,888.34 283.95,888.3 284.98,888.27 286.01,888.23 287.04,888.2 288.07,888.17 289.1,888.14 290.12,888.11 291.15,888.08 292.18,888.06 293.21,888.03 294.24,888.01 295.27,887.98 296.3,887.96 297.33,887.94 298.36,887.91 299.39,887.89 300.42,887.86 301.44,887.84 302.47,887.82 303.5,887.8 304.53,887.78 305.56,887.76 306.59,887.74 307.62,887.72 308.65,887.71 309.68,887.7 310.71,887.69 311.73,887.68 312.76,887.68 313.79,887.67 314.82,887.67 315.85,887.67 316.88,887.67 317.91,887.67 318.94,887.67 319.97,887.67 321,887.67 322.02,887.67 323.05,887.67 324.08,887.67 325.11,887.67 326.14,887.67 327.17,887.67 328.2,887.67 329.23,887.67 330.26,887.67 331.28,887.67 332.31,887.67 333.34,887.67 334.37,887.67 335.4,887.67 336.43,887.67 337.46,887.67 338.49,887.67 339.52,887.67 340.55,887.67 341.57,887.67 342.6,887.67 343.63,887.67 344.66,887.67 345.69,887.67 346.72,887.67 347.75,887.67 348.78,887.67 349.81,887.67 350.84,887.67 351.87,887.67 352.89,887.67 353.92,887.67 354.95,887.67 355.98,887.67 357.01,887.67 358.04,887.67 359.07,887.67 360.1,887.67 361.13,887.67 362.15,887.67 363.18,887.67 364.21,887.67 365.24,887.67 366.27,887.67 367.3,887.67 368.33,887.67 369.36,887.67 370.39,887.67 371.42,887.67 372.44,887.67 373.47,887.67 374.5,887.67 375.53,887.67 376.56,887.67 377.59,887.67 378.62,887.67 379.65,887.67 380.68,887.67 381.71,887.67 382.74,887.67 383.76,887.67 384.79,887.67 385.82,887.67 386.85,887.67 387.88,887.67 388.91,887.67 389.94,887.67 390.97,887.67 392,887.67 393.03,887.67 394.05,887.67 395.08,887.67 396.11,887.67 397.14,887.67 398.17,887.67 399.2,887.67 400.23,887.67 401.26,887.67 402.29,887.67 403.31,887.67 404.34,887.67 405.37,887.67 406.4,887.67 407.43,887.67 408.46,887.67 409.49,887.67 410.52,887.67 411.55,887.67 412.58,887.67 413.6,887.67 414.63,887.67 415.66,887.67 416.69,887.67 417.72,887.67 418.75,887.67" fill="none" stroke="#222" stroke-width="0.9" stroke-linejoin="round" />
<g fill="#fff" stroke="#1a1a1a" stroke-width="1.0"><circle cx="113.17" cy="1067.78" r="2.25"/><circle cx="115.37" cy="1067.38" r="2.25"/><circle cx="117.57" cy="1066.87" r="2.25"/><circle cx="119.76" cy="1066.2" r="2.25"/><circle cx="121.96" cy="1065.3" r="2.25"/><circle cx="124.16" cy="1064.21" r="2.25"/><circle cx="126.36" cy="1062.96" r="2.25"/><circle cx="128.56" cy="1061.39" r="2.25"/><circle cx="130.75" cy="1059.49" r="2.25"/><circle cx="132.95" cy="1057.3" r="2.25"/><circle cx="135.15" cy="1054.88" r="2.25"/><circle cx="137.35" cy="1052.2" r="2.25"/><circle cx="139.54" cy="1048.93" r="2.25"/><circle cx="141.74" cy="1045.26" r="2.25"/><circle cx="143.94" cy="1041.47" r="2.25"/><circle cx="146.14" cy="1037.54" r="2.25"/><circle cx="148.33" cy="1033.41" r="2.25"/><circle cx="150.53" cy="1029.1" r="2.25"/><circle cx="152.73" cy="1024.68" r="2.25"/><circle cx="154.93" cy="1020.17" r="2.25"/><circle cx="157.12" cy="1015.59" r="2.25"/><circle cx="159.32" cy="1010.9" r="2.25"/><circle cx="161.52" cy="1006.08" r="2.25"/><circle cx="163.72" cy="1001.13" r="2.25"/><circle cx="165.92" cy="996.01" r="2.25"/><circle cx="168.11" cy="990.71" r="2.25"/><circle cx="170.31" cy="985.06" r="2.25"/><circle cx="172.51" cy="979.12" r="2.25"/><circle cx="174.71" cy="973.08" r="2.25"/><circle cx="176.9" cy="967.09" r="2.25"/><circle cx="179.1" cy="961.29" r="2.25"/><circle cx="181.3" cy="955.54" r="2.25"/><circle cx="183.5" cy="949.83" r="2.25"/><circle cx="185.69" cy="944.2" r="2.25"/><circle cx="187.89" cy="938.69" r="2.25"/><circle cx="190.09" cy="933.3" r="2.25"/><circle cx="192.29" cy="927.97" r="2.25"/><circle cx="194.49" cy="922.8" r="2.25"/><circle cx="196.68" cy="917.88" r="2.25"/><circle cx="198.88" cy="913.08" r="2.25"/><circle cx="201.08" cy="908.49" r="2.25"/><circle cx="203.28" cy="904.73" r="2.25"/><circle cx="205.47" cy="901.61" r="2.25"/><circle cx="207.67" cy="898.94" r="2.25"/><circle cx="209.87" cy="897.11" r="2.25"/><circle cx="212.07" cy="896.07" r="2.25"/><circle cx="212.59" cy="895.86" r="2.25"/><circle cx="217.22" cy="894.44" r="2.25"/><circle cx="222.06" cy="893.24" r="2.25"/><circle cx="227.1" cy="892.14" r="2.25"/><circle cx="232.36" cy="891.38" r="2.25"/><circle cx="237.84" cy="890.82" r="2.25"/><circle cx="243.57" cy="890.35" r="2.25"/><circle cx="249.53" cy="889.94" r="2.25"/><circle cx="255.76" cy="889.55" r="2.25"/><circle cx="262.25" cy="889.2" r="2.25"/><circle cx="269.02" cy="888.89" r="2.25"/><circle cx="276.08" cy="888.59" r="2.25"/><circle cx="283.44" cy="888.32" r="2.25"/><circle cx="291.13" cy="888.08" r="2.25"/><circle cx="299.14" cy="887.89" r="2.25"/><circle cx="307.49" cy="887.73" r="2.25"/><circle cx="316.21" cy="887.67" r="2.25"/><circle cx="325.3" cy="887.67" r="2.25"/><circle cx="335.77" cy="887.67" r="2.25"/><circle cx="346.23" cy="887.67" r="2.25"/><circle cx="356.7" cy="887.67" r="2.25"/><circle cx="367.16" cy="887.67" r="2.25"/><circle cx="377.63" cy="887.67" r="2.25"/><circle cx="388.09" cy="887.67" r="2.25"/><circle cx="398.56" cy="887.67" r="2.25"/><circle cx="409.02" cy="887.67" r="2.25"/></g>
<g fill="#19e619"><rect x="108.48" y="1065.4" width="5.2" height="5.2"/><rect x="110.36" y="1064.99" width="5.2" height="5.2"/><rect x="112.25" y="1064.11" width="5.2" height="5.2"/><rect x="114.13" y="1062.95" width="5.2" height="5.2"/><rect x="116.01" y="1061.49" width="5.2" height="5.2"/><rect x="117.9" y="1059.3" width="5.2" height="5.2"/><rect x="119.78" y="1056.56" width="5.2" height="5.2"/><rect x="121.66" y="1053.51" width="5.2" height="5.2"/><rect x="123.55" y="1050.35" width="5.2" height="5.2"/><rect x="125.43" y="1046.82" width="5.2" height="5.2"/><rect x="127.32" y="1042.87" width="5.2" height="5.2"/><rect x="129.2" y="1038.64" width="5.2" height="5.2"/><rect x="131.08" y="1034.26" width="5.2" height="5.2"/><rect x="132.97" y="1029.9" width="5.2" height="5.2"/><rect x="134.85" y="1025.61" width="5.2" height="5.2"/><rect x="136.73" y="1021.23" width="5.2" height="5.2"/><rect x="138.62" y="1016.77" width="5.2" height="5.2"/><rect x="140.5" y="1012.26" width="5.2" height="5.2"/><rect x="142.39" y="1007.74" width="5.2" height="5.2"/><rect x="144.27" y="1003.24" width="5.2" height="5.2"/><rect x="146.15" y="998.68" width="5.2" height="5.2"/><rect x="148.04" y="994.06" width="5.2" height="5.2"/><rect x="149.92" y="989.44" width="5.2" height="5.2"/><rect x="151.8" y="984.9" width="5.2" height="5.2"/><rect x="153.69" y="980.52" width="5.2" height="5.2"/><rect x="155.57" y="976.34" width="5.2" height="5.2"/><rect x="157.46" y="972.27" width="5.2" height="5.2"/><rect x="159.34" y="968.3" width="5.2" height="5.2"/><rect x="161.22" y="964.45" width="5.2" height="5.2"/><rect x="163.11" y="960.72" width="5.2" height="5.2"/><rect x="164.99" y="957.13" width="5.2" height="5.2"/><rect x="166.87" y="953.66" width="5.2" height="5.2"/><rect x="168.76" y="950.27" width="5.2" height="5.2"/><rect x="170.64" y="947" width="5.2" height="5.2"/><rect x="172.52" y="943.85" width="5.2" height="5.2"/><rect x="174.41" y="940.82" width="5.2" height="5.2"/><rect x="176.29" y="937.94" width="5.2" height="5.2"/><rect x="178.18" y="935.13" width="5.2" height="5.2"/><rect x="180.06" y="932.4" width="5.2" height="5.2"/><rect x="181.94" y="929.8" width="5.2" height="5.2"/><rect x="183.83" y="927.36" width="5.2" height="5.2"/><rect x="185.71" y="925.11" width="5.2" height="5.2"/><rect x="187.59" y="923.02" width="5.2" height="5.2"/><rect x="189.48" y="921.03" width="5.2" height="5.2"/><rect x="191.36" y="919.15" width="5.2" height="5.2"/><rect x="193.25" y="917.41" width="5.2" height="5.2"/><rect x="195.13" y="915.81" width="5.2" height="5.2"/><rect x="197.01" y="914.36" width="5.2" height="5.2"/><rect x="198.9" y="913.03" width="5.2" height="5.2"/><rect x="200.78" y="911.79" width="5.2" height="5.2"/><rect x="202.66" y="910.64" width="5.2" height="5.2"/><rect x="204.55" y="909.57" width="5.2" height="5.2"/><rect x="206.43" y="908.59" width="5.2" height="5.2"/><rect x="206.85" y="908.38" width="5.2" height="5.2"/><rect x="211.35" y="906.37" width="5.2" height="5.2"/><rect x="216.04" y="904.55" width="5.2" height="5.2"/><rect x="220.94" y="902.75" width="5.2" height="5.2"/><rect x="226.04" y="901.02" width="5.2" height="5.2"/><rect x="231.37" y="899.44" width="5.2" height="5.2"/><rect x="236.92" y="897.9" width="5.2" height="5.2"/><rect x="242.72" y="896.44" width="5.2" height="5.2"/><rect x="248.76" y="895.1" width="5.2" height="5.2"/><rect x="255.06" y="893.89" width="5.2" height="5.2"/><rect x="261.63" y="892.78" width="5.2" height="5.2"/><rect x="268.49" y="891.7" width="5.2" height="5.2"/><rect x="275.64" y="890.65" width="5.2" height="5.2"/><rect x="283.1" y="889.63" width="5.2" height="5.2"/><rect x="290.88" y="888.62" width="5.2" height="5.2"/><rect x="298.99" y="887.61" width="5.2" height="5.2"/><rect x="307.45" y="886.61" width="5.2" height="5.2"/><rect x="316.28" y="885.64" width="5.2" height="5.2"/><rect x="325.48" y="884.7" width="5.2" height="5.2"/><rect x="335.95" y="883.64" width="5.2" height="5.2"/><rect x="346.41" y="882.61" width="5.2" height="5.2"/><rect x="356.88" y="881.41" width="5.2" height="5.2"/><rect x="367.34" y="879.96" width="5.2" height="5.2"/><rect x="377.81" y="878.51" width="5.2" height="5.2"/><rect x="388.27" y="877.11" width="5.2" height="5.2"/><rect x="398.74" y="875.56" width="5.2" height="5.2"/><rect x="409.2" y="873.8" width="5.2" height="5.2"/></g>
<g fill="#0a0af5" stroke="#0a0af5" stroke-width="0.4"><circle cx="111.08" cy="1068" r="2.7"/><circle cx="112.96" cy="1067.55" r="2.7"/><circle cx="114.85" cy="1066.68" r="2.7"/><circle cx="116.73" cy="1065.54" r="2.7"/><circle cx="118.61" cy="1064.15" r="2.7"/><circle cx="120.5" cy="1062.15" r="2.7"/><circle cx="122.38" cy="1059.64" r="2.7"/><circle cx="124.26" cy="1056.77" r="2.7"/><circle cx="126.15" cy="1053.64" r="2.7"/><circle cx="128.03" cy="1049.62" r="2.7"/><circle cx="129.92" cy="1044.9" r="2.7"/><circle cx="131.8" cy="1040.13" r="2.7"/><circle cx="133.68" cy="1035.95" r="2.7"/><circle cx="135.57" cy="1032.31" r="2.7"/><circle cx="137.45" cy="1028.94" r="2.7"/><circle cx="139.33" cy="1025.71" r="2.7"/><circle cx="141.22" cy="1022.51" r="2.7"/><circle cx="143.1" cy="1019.24" r="2.7"/><circle cx="144.99" cy="1015.77" r="2.7"/><circle cx="146.87" cy="1011.99" r="2.7"/><circle cx="148.75" cy="1007.78" r="2.7"/><circle cx="150.64" cy="1003.21" r="2.7"/><circle cx="152.52" cy="998.47" r="2.7"/><circle cx="154.4" cy="993.75" r="2.7"/><circle cx="156.29" cy="989.23" r="2.7"/><circle cx="158.17" cy="985.03" r="2.7"/><circle cx="160.06" cy="980.96" r="2.7"/><circle cx="161.94" cy="977" r="2.7"/><circle cx="163.82" cy="973.15" r="2.7"/><circle cx="165.71" cy="969.42" r="2.7"/><circle cx="167.59" cy="965.83" r="2.7"/><circle cx="169.47" cy="962.35" r="2.7"/><circle cx="171.36" cy="958.97" r="2.7"/><circle cx="173.24" cy="955.69" r="2.7"/><circle cx="175.12" cy="952.54" r="2.7"/><circle cx="177.01" cy="949.52" r="2.7"/><circle cx="178.89" cy="946.63" r="2.7"/><circle cx="180.78" cy="943.81" r="2.7"/><circle cx="182.66" cy="941.07" r="2.7"/><circle cx="184.54" cy="938.46" r="2.7"/><circle cx="186.43" cy="936.02" r="2.7"/><circle cx="188.31" cy="933.8" r="2.7"/><circle cx="190.19" cy="931.76" r="2.7"/><circle cx="192.08" cy="929.85" r="2.7"/><circle cx="193.96" cy="928.05" r="2.7"/><circle cx="195.85" cy="926.38" r="2.7"/><circle cx="197.73" cy="924.84" r="2.7"/><circle cx="199.61" cy="923.43" r="2.7"/><circle cx="201.5" cy="922.13" r="2.7"/><circle cx="203.38" cy="920.93" r="2.7"/><circle cx="205.26" cy="919.8" r="2.7"/><circle cx="207.15" cy="918.72" r="2.7"/><circle cx="209.03" cy="917.66" r="2.7"/><circle cx="210.92" cy="916.62" r="2.7"/><circle cx="211.54" cy="916.27" r="2.7"/><circle cx="216.13" cy="913.87" r="2.7"/><circle cx="220.92" cy="911.6" r="2.7"/><circle cx="225.91" cy="909.46" r="2.7"/><circle cx="231.12" cy="907.49" r="2.7"/><circle cx="236.55" cy="905.63" r="2.7"/><circle cx="242.22" cy="903.84" r="2.7"/><circle cx="248.13" cy="902.14" r="2.7"/><circle cx="254.29" cy="900.54" r="2.7"/><circle cx="260.72" cy="899.03" r="2.7"/><circle cx="267.42" cy="897.6" r="2.7"/><circle cx="274.42" cy="896.22" r="2.7"/><circle cx="281.71" cy="894.91" r="2.7"/><circle cx="289.32" cy="893.65" r="2.7"/><circle cx="297.25" cy="892.45" r="2.7"/><circle cx="305.53" cy="891.3" r="2.7"/><circle cx="314.16" cy="890.18" r="2.7"/><circle cx="324.56" cy="888.91" r="2.7"/><circle cx="335.03" cy="887.67" r="2.7"/><circle cx="345.5" cy="886.42" r="2.7"/><circle cx="355.96" cy="885.16" r="2.7"/><circle cx="366.43" cy="883.93" r="2.7"/><circle cx="376.89" cy="882.66" r="2.7"/><circle cx="387.36" cy="881.25" r="2.7"/><circle cx="397.82" cy="879.79" r="2.7"/><circle cx="408.29" cy="878.35" r="2.7"/><circle cx="418.75" cy="876.92" r="2.7"/></g>
<polyline points="111.08,1068 111.7,1067.81 112.31,1067.58 112.93,1067.3 113.55,1066.99 114.16,1066.64 114.78,1066.26 115.4,1065.86 116.01,1065.42 116.63,1064.97 117.24,1064.5 117.86,1064.01 118.48,1063.46 119.09,1062.85 119.71,1062.2 120.33,1061.5 120.94,1060.76 121.56,1059.97 122.18,1059.14 122.79,1058.27 123.41,1057.36 124.03,1056.42 124.64,1055.45 125.26,1054.44 125.88,1053.41 126.49,1052.3 127.11,1051.1 127.73,1049.81 128.34,1048.45 128.96,1047.01 129.58,1045.51 130.19,1043.95 130.81,1042.34 131.43,1040.69 132.04,1039 132.66,1037.28 133.28,1035.53 133.89,1033.76 134.51,1031.99 135.13,1030.21 135.74,1028.43 136.36,1026.66 136.98,1024.86 137.59,1023.02 138.21,1021.14 138.82,1019.22 139.44,1017.27 140.06,1015.28 140.67,1013.27 141.29,1011.23 141.91,1009.16 142.52,1007.07 143.14,1004.97 143.76,1002.85 144.37,1000.71 144.99,998.56 145.61,996.41 146.22,994.25 146.84,992.08 147.46,989.89 148.07,987.66 148.69,985.4 149.31,983.12 149.92,980.81 150.54,978.49 151.16,976.15 151.77,973.79 152.39,971.42 153.01,969.05 153.62,966.68 154.24,964.3 154.86,961.93 155.47,959.56 156.09,957.21 156.71,954.86 157.32,952.54 157.94,950.2 158.56,947.86 159.17,945.51 159.79,943.15 160.41,940.79 161.02,938.43 161.64,936.07 162.25,933.72 162.87,931.37 163.49,929.03 164.1,926.7 164.72,924.38 165.34,922.08 165.95,919.8 166.57,917.54 167.19,915.3 167.8,913.08 168.42,910.84 169.04,908.59 169.65,906.32 170.27,904.05 170.89,901.78 171.5,899.52 172.12,897.28 172.74,895.06 173.35,892.87 173.97,890.72 174.59,888.62 175.2,886.57 175.82,884.58 176.44,882.66 177.05,880.82 177.67,879.05 178.29,877.37 178.9,875.69 179.52,874.01 180.14,872.36 180.75,870.75 181.37,869.22 181.99,867.79 182.6,866.48 183.22,865.31 183.83,864.32 184.45,863.51 185.07,862.78 185.68,862.06 186.3,861.37 186.92,860.75 187.53,860.22 188.15,859.79 188.77,859.5 189.38,859.36 190,859.44 190.62,859.82 191.23,860.48 191.85,861.36 192.47,862.41 193.08,863.61 193.7,864.89 194.32,866.21 194.93,867.53 195.55,869.01 196.17,870.72 196.78,872.67 197.4,874.86 198.02,877.28 198.63,879.95 199.25,882.87 199.87,886.19 200.48,890 201.1,894.36 201.72,899.32 202.33,904.97 202.95,911.35 203.57,919.21 204.18,930.4 204.8,943.86 205.41,958.31 206.03,972.44 206.65,985.93 207.26,1001.18 207.88,1014.62 208.5,1022.05 209.11,1025.58 209.73,1028.09 210.35,1029.96 210.96,1031.53 211.58,1032.93 212.2,1034.19 212.81,1035.32 213.43,1036.33 214.05,1037.24 214.66,1038.06 215.28,1038.81 215.9,1039.5 216.51,1040.15 217.13,1040.74 217.75,1041.3 218.36,1041.82 218.98,1042.31 219.6,1042.77 220.21,1043.2 220.83,1043.61 221.45,1044 222.06,1044.37 222.68,1044.73 223.3,1045.08 223.91,1045.4 224.53,1045.72 225.15,1046.02 225.76,1046.32 226.38,1046.6 227,1046.87 227.61,1047.14 228.23,1047.4 228.84,1047.66 229.46,1047.91 230.08,1048.16 230.69,1048.41 231.31,1048.66 231.93,1048.9 232.54,1049.14 233.16,1049.38 233.78,1049.62 234.39,1049.85 235.01,1050.09 235.63,1050.31 236.24,1050.54 236.86,1050.77 237.48,1050.99 238.09,1051.21 238.71,1051.42 239.33,1051.64 239.94,1051.85 240.56,1052.06 241.18,1052.27 241.79,1052.48 242.41,1052.68 243.03,1052.89 243.64,1053.09 244.26,1053.29 244.88,1053.49 245.49,1053.68 246.11,1053.88 246.73,1054.07 247.34,1054.26 247.96,1054.45 248.58,1054.64 249.19,1054.82 249.81,1055.01 250.42,1055.19 251.04,1055.37 251.66,1055.55 252.27,1055.73 252.89,1055.91 253.51,1056.09 254.12,1056.27 254.74,1056.45 255.36,1056.62 255.97,1056.8 256.59,1056.97 257.21,1057.14 257.82,1057.31 258.44,1057.48 259.06,1057.65 259.67,1057.82 260.29,1057.98 260.91,1058.14 261.52,1058.31 262.14,1058.47 262.76,1058.63 263.37,1058.78 263.99,1058.94 264.61,1059.09 265.22,1059.24 265.84,1059.39 266.46,1059.54 267.07,1059.69 267.69,1059.83 268.31,1059.97 268.92,1060.11 269.54,1060.25 270.16,1060.39 270.77,1060.52 271.39,1060.65 272.01,1060.78 272.62,1060.91 273.24,1061.03 273.85,1061.16 274.47,1061.28 275.09,1061.4 275.7,1061.53 276.32,1061.65 276.94,1061.77 277.55,1061.88 278.17,1062 278.79,1062.12 279.4,1062.23 280.02,1062.35 280.64,1062.46 281.25,1062.57 281.87,1062.68 282.49,1062.79 283.1,1062.89 283.72,1063 284.34,1063.1 284.95,1063.2 285.57,1063.31 286.19,1063.4 286.8,1063.5 287.42,1063.6 288.04,1063.69 288.65,1063.79 289.27,1063.88 289.89,1063.97 290.5,1064.06 291.12,1064.14 291.74,1064.23 292.35,1064.31 292.97,1064.39 293.59,1064.47 294.2,1064.55 294.82,1064.63 295.43,1064.71 296.05,1064.78 296.67,1064.86 297.28,1064.94 297.9,1065.02 298.52,1065.09 299.13,1065.17 299.75,1065.24 300.37,1065.32 300.98,1065.39 301.6,1065.46 302.22,1065.53 302.83,1065.6 303.45,1065.67 304.07,1065.74 304.68,1065.8 305.3,1065.87 305.92,1065.93 306.53,1065.99 307.15,1066.05 307.77,1066.11 308.38,1066.16 309,1066.22 309.62,1066.27 310.23,1066.32 310.85,1066.36 311.47,1066.41 312.08,1066.45 312.7,1066.49 313.32,1066.52 313.93,1066.56 314.55,1066.59 315.17,1066.62 315.78,1066.65 316.4,1066.68 317.02,1066.71 317.63,1066.75 318.25,1066.78 318.86,1066.81 319.48,1066.84 320.1,1066.87 320.71,1066.89 321.33,1066.92 321.95,1066.95 322.56,1066.98 323.18,1067 323.8,1067.03 324.41,1067.05 325.03,1067.08 325.65,1067.1 326.26,1067.12 326.88,1067.14 327.5,1067.16 328.11,1067.18 328.73,1067.2 329.35,1067.21 329.96,1067.23 330.58,1067.24 331.2,1067.25 331.81,1067.26 332.43,1067.27 333.05,1067.27 333.66,1067.28 334.28,1067.28 334.9,1067.28 335.51,1067.28 336.13,1067.28 336.75,1067.28 337.36,1067.28 337.98,1067.28 338.6,1067.28 339.21,1067.28 339.83,1067.28 340.44,1067.28 341.06,1067.28 341.68,1067.28 342.29,1067.28 342.91,1067.28 343.53,1067.28 344.14,1067.28 344.76,1067.28 345.38,1067.28 345.99,1067.28 346.61,1067.28 347.23,1067.28 347.84,1067.28 348.46,1067.28 349.08,1067.28 349.69,1067.28 350.31,1067.28 350.93,1067.28 351.54,1067.28 352.16,1067.28 352.78,1067.28 353.39,1067.28 354.01,1067.28 354.63,1067.28 355.24,1067.28 355.86,1067.28 356.48,1067.28 357.09,1067.28 357.71,1067.27 358.33,1067.26 358.94,1067.25 359.56,1067.23 360.18,1067.21 360.79,1067.19 361.41,1067.17 362.03,1067.14 362.64,1067.12 363.26,1067.09 363.87,1067.06 364.49,1067.02 365.11,1066.99 365.72,1066.96 366.34,1066.92 366.96,1066.88 367.57,1066.84 368.19,1066.8 368.81,1066.76 369.42,1066.72 370.04,1066.68 370.66,1066.63 371.27,1066.59 371.89,1066.55 372.51,1066.51 373.12,1066.46 373.74,1066.42 374.36,1066.38 374.97,1066.33 375.59,1066.29 376.21,1066.25 376.82,1066.21 377.44,1066.17 378.06,1066.13 378.67,1066.09 379.29,1066.05 379.91,1066 380.52,1065.96 381.14,1065.91 381.76,1065.87 382.37,1065.82 382.99,1065.78 383.61,1065.73 384.22,1065.68 384.84,1065.63 385.45,1065.58 386.07,1065.53 386.69,1065.48 387.3,1065.42 387.92,1065.37 388.54,1065.32 389.15,1065.26 389.77,1065.21 390.39,1065.15 391,1065.09 391.62,1065.03 392.24,1064.98 392.85,1064.92 393.47,1064.86 394.09,1064.8 394.7,1064.73 395.32,1064.67 395.94,1064.61 396.55,1064.55 397.17,1064.48 397.79,1064.42 398.4,1064.35 399.02,1064.29 399.64,1064.22 400.25,1064.15 400.87,1064.08 401.49,1064.01 402.1,1063.93 402.72,1063.86 403.34,1063.78 403.95,1063.7 404.57,1063.63 405.19,1063.55 405.8,1063.47 406.42,1063.38 407.04,1063.3 407.65,1063.22 408.27,1063.13 408.88,1063.05 409.5,1062.96 410.12,1062.87 410.73,1062.78 411.35,1062.69 411.97,1062.6 412.58,1062.51 413.2,1062.42 413.82,1062.33 414.43,1062.23 415.05,1062.14 415.67,1062.04 416.28,1061.94 416.9,1061.84 417.52,1061.75 418.13,1061.65 418.75,1061.55" fill="none" stroke="#f03a36" stroke-width="1.3" stroke-linejoin="round" />
<rect x="94.6" y="846.6" width="334.8" height="228.9" fill="none" stroke="#2a2a2a" stroke-width="1.2"/>
<line x1="104.8" y1="1075.5" x2="104.8" y2="1071.2" stroke="#2a2a2a" stroke-width="1.0" /><line x1="167.59" y1="1075.5" x2="167.59" y2="1071.2" stroke="#2a2a2a" stroke-width="1.0" /><line x1="230.38" y1="1075.5" x2="230.38" y2="1071.2" stroke="#2a2a2a" stroke-width="1.0" /><line x1="293.17" y1="1075.5" x2="293.17" y2="1071.2" stroke="#2a2a2a" stroke-width="1.0" /><line x1="355.96" y1="1075.5" x2="355.96" y2="1071.2" stroke="#2a2a2a" stroke-width="1.0" /><line x1="418.75" y1="1075.5" x2="418.75" y2="1071.2" stroke="#2a2a2a" stroke-width="1.0" />
<line x1="136.19" y1="1075.5" x2="136.19" y2="1072.9" stroke="#2a2a2a" stroke-width="1.0" /><line x1="198.99" y1="1075.5" x2="198.99" y2="1072.9" stroke="#2a2a2a" stroke-width="1.0" /><line x1="261.77" y1="1075.5" x2="261.77" y2="1072.9" stroke="#2a2a2a" stroke-width="1.0" /><line x1="324.56" y1="1075.5" x2="324.56" y2="1072.9" stroke="#2a2a2a" stroke-width="1.0" /><line x1="387.36" y1="1075.5" x2="387.36" y2="1072.9" stroke="#2a2a2a" stroke-width="1.0" />
<line x1="104.8" y1="846.6" x2="104.8" y2="850.9" stroke="#2a2a2a" stroke-width="1.0" /><line x1="167.59" y1="846.6" x2="167.59" y2="850.9" stroke="#2a2a2a" stroke-width="1.0" /><line x1="230.38" y1="846.6" x2="230.38" y2="850.9" stroke="#2a2a2a" stroke-width="1.0" /><line x1="293.17" y1="846.6" x2="293.17" y2="850.9" stroke="#2a2a2a" stroke-width="1.0" /><line x1="355.96" y1="846.6" x2="355.96" y2="850.9" stroke="#2a2a2a" stroke-width="1.0" /><line x1="418.75" y1="846.6" x2="418.75" y2="850.9" stroke="#2a2a2a" stroke-width="1.0" />
<line x1="136.19" y1="846.6" x2="136.19" y2="849.2" stroke="#2a2a2a" stroke-width="1.0" /><line x1="198.99" y1="846.6" x2="198.99" y2="849.2" stroke="#2a2a2a" stroke-width="1.0" /><line x1="261.77" y1="846.6" x2="261.77" y2="849.2" stroke="#2a2a2a" stroke-width="1.0" /><line x1="324.56" y1="846.6" x2="324.56" y2="849.2" stroke="#2a2a2a" stroke-width="1.0" /><line x1="387.36" y1="846.6" x2="387.36" y2="849.2" stroke="#2a2a2a" stroke-width="1.0" />
<line x1="94.6" y1="1068" x2="98.9" y2="1068" stroke="#2a2a2a" stroke-width="1.0" /><line x1="94.6" y1="1032.15" x2="98.9" y2="1032.15" stroke="#2a2a2a" stroke-width="1.0" /><line x1="94.6" y1="996.3" x2="98.9" y2="996.3" stroke="#2a2a2a" stroke-width="1.0" /><line x1="94.6" y1="960.45" x2="98.9" y2="960.45" stroke="#2a2a2a" stroke-width="1.0" /><line x1="94.6" y1="924.6" x2="98.9" y2="924.6" stroke="#2a2a2a" stroke-width="1.0" /><line x1="94.6" y1="888.75" x2="98.9" y2="888.75" stroke="#2a2a2a" stroke-width="1.0" /><line x1="94.6" y1="852.9" x2="98.9" y2="852.9" stroke="#2a2a2a" stroke-width="1.0" />
<line x1="94.6" y1="1050.08" x2="97.2" y2="1050.08" stroke="#2a2a2a" stroke-width="1.0" /><line x1="94.6" y1="1014.23" x2="97.2" y2="1014.23" stroke="#2a2a2a" stroke-width="1.0" /><line x1="94.6" y1="978.38" x2="97.2" y2="978.38" stroke="#2a2a2a" stroke-width="1.0" /><line x1="94.6" y1="942.52" x2="97.2" y2="942.52" stroke="#2a2a2a" stroke-width="1.0" /><line x1="94.6" y1="906.67" x2="97.2" y2="906.67" stroke="#2a2a2a" stroke-width="1.0" /><line x1="94.6" y1="870.83" x2="97.2" y2="870.83" stroke="#2a2a2a" stroke-width="1.0" />
<line x1="429.4" y1="1068" x2="425.1" y2="1068" stroke="#2a2a2a" stroke-width="1.0" /><line x1="429.4" y1="1032.15" x2="425.1" y2="1032.15" stroke="#2a2a2a" stroke-width="1.0" /><line x1="429.4" y1="996.3" x2="425.1" y2="996.3" stroke="#2a2a2a" stroke-width="1.0" /><line x1="429.4" y1="960.45" x2="425.1" y2="960.45" stroke="#2a2a2a" stroke-width="1.0" /><line x1="429.4" y1="924.6" x2="425.1" y2="924.6" stroke="#2a2a2a" stroke-width="1.0" /><line x1="429.4" y1="888.75" x2="425.1" y2="888.75" stroke="#2a2a2a" stroke-width="1.0" /><line x1="429.4" y1="852.9" x2="425.1" y2="852.9" stroke="#2a2a2a" stroke-width="1.0" />
<line x1="429.4" y1="1050.08" x2="426.8" y2="1050.08" stroke="#2a2a2a" stroke-width="1.0" /><line x1="429.4" y1="1014.23" x2="426.8" y2="1014.23" stroke="#2a2a2a" stroke-width="1.0" /><line x1="429.4" y1="978.38" x2="426.8" y2="978.38" stroke="#2a2a2a" stroke-width="1.0" /><line x1="429.4" y1="942.52" x2="426.8" y2="942.52" stroke="#2a2a2a" stroke-width="1.0" /><line x1="429.4" y1="906.67" x2="426.8" y2="906.67" stroke="#2a2a2a" stroke-width="1.0" /><line x1="429.4" y1="870.83" x2="426.8" y2="870.83" stroke="#2a2a2a" stroke-width="1.0" />
<text x="104.8" y="1088.4" font-family="Liberation Sans, sans-serif" font-size="10.5" text-anchor="middle" fill="#2a2a2a" stroke="#2a2a2a" stroke-width="0.25" >0</text>
<text x="167.59" y="1088.4" font-family="Liberation Sans, sans-serif" font-size="10.5" text-anchor="middle" fill="#2a2a2a" stroke="#2a2a2a" stroke-width="0.25" >3</text>
<text x="230.38" y="1088.4" font-family="Liberation Sans, sans-serif" font-size="10.5" text-anchor="middle" fill="#2a2a2a" stroke="#2a2a2a" stroke-width="0.25" >6</text>
<text x="293.17" y="1088.4" font-family="Liberation Sans, sans-serif" font-size="10.5" text-anchor="middle" fill="#2a2a2a" stroke="#2a2a2a" stroke-width="0.25" >9</text>
<text x="355.96" y="1088.4" font-family="Liberation Sans, sans-serif" font-size="10.5" text-anchor="middle" fill="#2a2a2a" stroke="#2a2a2a" stroke-width="0.25" >12</text>
<text x="418.75" y="1088.4" font-family="Liberation Sans, sans-serif" font-size="10.5" text-anchor="middle" fill="#2a2a2a" stroke="#2a2a2a" stroke-width="0.25" >15</text>
<text x="90.9" y="1071.8" font-family="Liberation Sans, sans-serif" font-size="10.5" text-anchor="end" fill="#2a2a2a" stroke="#2a2a2a" stroke-width="0.25" >0</text>
<text x="90.9" y="1035.95" font-family="Liberation Sans, sans-serif" font-size="10.5" text-anchor="end" fill="#2a2a2a" stroke="#2a2a2a" stroke-width="0.25" >1</text>
<text x="90.9" y="1000.1" font-family="Liberation Sans, sans-serif" font-size="10.5" text-anchor="end" fill="#2a2a2a" stroke="#2a2a2a" stroke-width="0.25" >2</text>
<text x="90.9" y="964.25" font-family="Liberation Sans, sans-serif" font-size="10.5" text-anchor="end" fill="#2a2a2a" stroke="#2a2a2a" stroke-width="0.25" >3</text>
<text x="90.9" y="928.4" font-family="Liberation Sans, sans-serif" font-size="10.5" text-anchor="end" fill="#2a2a2a" stroke="#2a2a2a" stroke-width="0.25" >4</text>
<text x="90.9" y="892.55" font-family="Liberation Sans, sans-serif" font-size="10.5" text-anchor="end" fill="#2a2a2a" stroke="#2a2a2a" stroke-width="0.25" >5</text>
<text x="90.9" y="856.7" font-family="Liberation Sans, sans-serif" font-size="10.5" text-anchor="end" fill="#2a2a2a" stroke="#2a2a2a" stroke-width="0.25" >6</text>
<text x="262" y="1102.3" font-family="Liberation Sans, sans-serif" font-size="12.4" text-anchor="middle" fill="#2a2a2a" stroke="#2a2a2a" stroke-width="0.25" >T (K)</text>
<text transform="translate(70.7 964) rotate(-90)" font-family="Liberation Sans, sans-serif" font-size="12.6" text-anchor="middle" fill="#2a2a2a" stroke="#2a2a2a" stroke-width="0.25">c<tspan font-size="9" dy="2.5">mag</tspan><tspan dy="-2.5">, S</tspan><tspan font-size="9" dy="2.5">mag</tspan><tspan dy="-2.5"> (J/molK)</tspan></text>
<text x="112.6" y="867.6" font-family="Liberation Sans, sans-serif" font-size="11.3" text-anchor="start" fill="#2a2a2a" stroke="#2a2a2a" stroke-width="0.25" >c<tspan font-size="8.4" dy="2.8" dx="1.5">mag</tspan></text>
<line x1="98" y1="881.7" x2="133" y2="881.7" stroke="#ff5a5a" stroke-width="1.7" />
<text x="138.4" y="885.8" font-family="Liberation Sans, sans-serif" font-size="10.7" text-anchor="start" fill="#2a2a2a" stroke="#2a2a2a" stroke-width="0.25" >H = 0</text>
<text x="329.3" y="967.4" font-family="Liberation Sans, sans-serif" font-size="11.3" text-anchor="start" fill="#2a2a2a" stroke="#2a2a2a" stroke-width="0.25" >S<tspan font-size="8.4" dy="2.8" dx="0.8">mag</tspan></text>
<line x1="301.2" y1="979.2" x2="348.4" y2="979.2" stroke="#222" stroke-width="0.9" />
<g fill="#fff" stroke="#1a1a1a" stroke-width="1.0"><circle cx="324.4" cy="979.2" r="2.6"/></g>
<text x="352" y="983.3" font-family="Liberation Sans, sans-serif" font-size="10.7" text-anchor="start" fill="#2a2a2a" stroke="#2a2a2a" stroke-width="0.25" >H = 0</text>
<g fill="#19e619"><rect x="321.9" y="998.9" width="5" height="5"/></g>
<text x="352" y="1005.5" font-family="Liberation Sans, sans-serif" font-size="10.7" text-anchor="start" fill="#2a2a2a" stroke="#2a2a2a" stroke-width="0.25" >15 kOe</text>
<g fill="#0a0af5" stroke="#0a0af5" stroke-width="0.4"><circle cx="324.4" cy="1023.7" r="2.9"/></g>
<text x="352" y="1027.8" font-family="Liberation Sans, sans-serif" font-size="10.7" text-anchor="start" fill="#2a2a2a" stroke="#2a2a2a" stroke-width="0.25" >20 kOe</text>
<line x1="301.2" y1="1045.4" x2="346.1" y2="1045.4" stroke="#ff4848" stroke-width="1.5" stroke-dasharray="1.7 1.9"/>
<text x="352" y="1049.5" font-family="Liberation Sans, sans-serif" font-size="10.7" text-anchor="start" fill="#2a2a2a" stroke="#2a2a2a" stroke-width="0.25" >50 kOe</text>
<polyline points="531.64,275.35 531.85,274.28 532.06,273.12 532.27,271.9 532.48,270.6 532.69,269.25 532.9,267.73 533.11,266.07 533.32,264.39 533.53,262.8 533.74,261.41 533.95,259.94 534.16,258.55 534.37,257.58 534.58,257.34 534.79,257.29 535,257.26 535.21,257.23 535.42,257.2 535.63,257.18 535.84,257.16 536.05,257.15 536.26,257.14 536.47,257.14 536.68,257.13 536.89,257.14 537.1,257.15 537.31,257.18 537.52,257.23 537.73,257.28 537.94,257.34 538.15,257.41 538.36,257.48 538.56,257.56 538.77,257.64 538.98,257.72 539.19,257.8 539.4,257.87 539.61,257.95 539.82,258.01 540.33,258.17 541.32,258.49 542.31,258.82 543.3,259.14 544.29,259.41 545.28,259.61 546.27,259.81 547.26,259.99 548.25,260.17 549.24,260.32 550.23,260.46 551.22,260.56 552.21,260.62 553.2,260.64 554.19,260.63 555.18,260.59 556.17,260.54 557.16,260.47 558.15,260.39 559.14,260.31 560.13,260.22 561.12,260.12 562.11,260.01 563.1,259.87 564.09,259.72 565.08,259.56 566.07,259.38 567.06,259.18 568.05,258.98 569.04,258.77 570.03,258.55 571.02,258.33 572.01,258.08 573,257.8 573.99,257.51 574.98,257.19 575.97,256.86 576.96,256.52 577.95,256.17 578.94,255.81 579.93,255.45 580.92,255.08 581.91,254.71 582.9,254.32 583.89,253.92 584.88,253.51 585.87,253.08 586.86,252.65 587.85,252.21 588.84,251.75 589.83,251.29 590.81,250.83 591.8,250.35 592.79,249.85 593.78,249.35 594.77,248.82 595.76,248.29 596.75,247.75 597.74,247.21 598.73,246.65 599.72,246.09 600.71,245.53 601.7,244.97 602.69,244.4 603.68,243.82 604.67,243.23 605.66,242.63 606.65,242.03 607.64,241.43 608.63,240.82 609.62,240.21 610.61,239.61 611.6,239 612.59,238.4 613.58,237.79 614.57,237.18 615.56,236.57 616.55,235.96 617.54,235.34 618.53,234.72 619.52,234.1 620.51,233.47 621.5,232.84 622.49,232.2 623.48,231.56 624.47,230.91 625.46,230.26 626.45,229.6 627.44,228.94 628.43,228.28 629.42,227.61 630.41,226.94 631.4,226.26 632.39,225.58 633.38,224.89 634.37,224.2 635.36,223.5 636.35,222.8 637.34,222.1 638.33,221.39 639.32,220.68 640.31,219.97 641.3,219.25 642.29,218.53 643.28,217.81 644.27,217.09 645.25,216.37 646.24,215.65 647.23,214.93 648.22,214.21 649.21,213.48 650.2,212.76 651.19,212.04 652.18,211.32 653.17,210.61 654.16,209.89 655.15,209.17 656.14,208.45 657.13,207.72 658.12,207 659.11,206.27 660.1,205.55 661.09,204.83 662.08,204.1 663.07,203.37 664.06,202.65 665.05,201.92 666.04,201.2 667.03,200.48 668.02,199.75 669.01,199.03 670,198.31 670.99,197.59 671.98,196.87 672.97,196.15 673.96,195.43 674.95,194.72 675.94,194 676.93,193.28 677.92,192.57 678.91,191.85 679.9,191.14 680.89,190.42 681.88,189.71 682.87,188.99 683.86,188.28 684.85,187.57 685.84,186.86 686.83,186.15 687.82,185.44 688.81,184.73 689.8,184.02 690.79,183.32 691.78,182.61 692.77,181.91 693.76,181.21 694.75,180.51 695.74,179.8 696.73,179.1 697.72,178.4 698.71,177.7 699.69,177 700.68,176.3 701.67,175.6 702.66,174.9 703.65,174.21 704.64,173.51 705.63,172.82 706.62,172.13 707.61,171.45 708.6,170.76 709.59,170.08 710.58,169.41 711.57,168.73 712.56,168.06 713.55,167.4 714.54,166.74 715.53,166.08 716.52,165.43 717.51,164.78 718.5,164.14 719.49,163.49 720.48,162.86 721.47,162.22 722.46,161.59 723.45,160.95 724.44,160.32 725.43,159.69 726.42,159.06 727.41,158.43 728.4,157.8 729.39,157.17 730.38,156.54 731.37,155.91 732.36,155.28 733.35,154.64 734.34,154.01 735.33,153.37 736.32,152.73 737.31,152.09 738.3,151.45 739.29,150.81 740.28,150.17 741.27,149.53 742.26,148.89 743.25,148.24 744.24,147.6 745.23,146.96 746.22,146.33 747.21,145.69 748.2,145.05 749.19,144.41 750.18,143.78 751.17,143.14 752.16,142.51 753.15,141.88 754.14,141.25 755.12,140.63 756.11,140 757.1,139.37 758.09,138.75 759.08,138.12 760.07,137.5 761.06,136.88 762.05,136.26 763.04,135.64 764.03,135.02 765.02,134.4 766.01,133.78 767,133.17 767.99,132.55 768.98,131.94 769.97,131.33 770.96,130.72 771.95,130.11 772.94,129.51 773.93,128.91 774.92,128.31 775.91,127.71 776.9,127.11 777.89,126.51 778.88,125.91 779.87,125.32 780.86,124.72 781.85,124.13 782.84,123.54 783.83,122.95 784.82,122.36 785.81,121.78 786.8,121.19 787.79,120.61 788.78,120.03 789.77,119.45 790.76,118.88 791.75,118.31 792.74,117.74 793.73,117.17 794.72,116.6 795.71,116.04 796.7,115.48 797.69,114.92 798.68,114.36 799.67,113.81 800.66,113.26 801.65,112.71 802.64,112.16 803.63,111.62 804.62,111.07 805.61,110.53 806.6,109.99 807.59,109.45 808.58,108.91 809.56,108.38 810.55,107.85 811.54,107.31 812.53,106.78 813.52,106.25 814.51,105.73 815.5,105.2 816.49,104.67 817.48,104.15 818.47,103.63 819.46,103.11 820.45,102.59 821.44,102.07 822.43,101.55 823.42,101.04 824.41,100.53 825.4,100.01 826.39,99.5 827.38,98.99 828.37,98.49 829.36,97.98 830.35,97.48 831.34,96.97 832.33,96.47 833.32,95.97 834.31,95.47 835.3,94.98 836.29,94.48" fill="none" stroke="#ff0000" stroke-width="6.6" stroke-linejoin="round" stroke-linecap="round"/>
<g fill="none" stroke="#ff3a3a" stroke-width="0.5"><circle cx="541.87" cy="258.67" r="2.2"/><circle cx="543.91" cy="259.31" r="2.2"/><circle cx="545.96" cy="259.74" r="2.2"/><circle cx="548" cy="260.12" r="2.2"/><circle cx="550.05" cy="260.44" r="2.2"/><circle cx="552.09" cy="260.62" r="2.2"/><circle cx="554.14" cy="260.63" r="2.2"/><circle cx="556.18" cy="260.54" r="2.2"/><circle cx="558.22" cy="260.38" r="2.2"/><circle cx="560.27" cy="260.21" r="2.2"/><circle cx="562.31" cy="259.98" r="2.2"/><circle cx="564.36" cy="259.68" r="2.2"/><circle cx="566.4" cy="259.31" r="2.2"/><circle cx="568.45" cy="258.9" r="2.2"/><circle cx="570.49" cy="258.45" r="2.2"/><circle cx="572.54" cy="257.93" r="2.2"/><circle cx="574.58" cy="257.32" r="2.2"/><circle cx="576.63" cy="256.64" r="2.2"/><circle cx="578.67" cy="255.91" r="2.2"/><circle cx="580.72" cy="255.16" r="2.2"/><circle cx="582.76" cy="254.38" r="2.2"/><circle cx="584.8" cy="253.54" r="2.2"/><circle cx="586.85" cy="252.65" r="2.2"/><circle cx="588.89" cy="251.73" r="2.2"/><circle cx="590.94" cy="250.77" r="2.2"/><circle cx="592.98" cy="249.76" r="2.2"/><circle cx="595.03" cy="248.69" r="2.2"/><circle cx="597.07" cy="247.58" r="2.2"/><circle cx="599.12" cy="246.44" r="2.2"/><circle cx="601.16" cy="245.28" r="2.2"/><circle cx="603.21" cy="244.1" r="2.2"/><circle cx="605.25" cy="242.88" r="2.2"/><circle cx="607.29" cy="241.64" r="2.2"/><circle cx="609.34" cy="240.39" r="2.2"/><circle cx="611.38" cy="239.13" r="2.2"/><circle cx="613.43" cy="237.88" r="2.2"/><circle cx="615.47" cy="236.62" r="2.2"/><circle cx="617.52" cy="235.36" r="2.2"/><circle cx="619.56" cy="234.07" r="2.2"/><circle cx="621.61" cy="232.77" r="2.2"/><circle cx="623.65" cy="231.44" r="2.2"/><circle cx="625.7" cy="230.1" r="2.2"/><circle cx="627.74" cy="228.74" r="2.2"/><circle cx="629.79" cy="227.36" r="2.2"/><circle cx="631.83" cy="225.96" r="2.2"/><circle cx="633.87" cy="224.55" r="2.2"/><circle cx="635.92" cy="223.11" r="2.2"/><circle cx="637.96" cy="221.65" r="2.2"/><circle cx="640.01" cy="220.18" r="2.2"/><circle cx="642.05" cy="218.7" r="2.2"/><circle cx="644.1" cy="217.22" r="2.2"/><circle cx="646.14" cy="215.73" r="2.2"/><circle cx="648.19" cy="214.23" r="2.2"/><circle cx="650.23" cy="212.74" r="2.2"/><circle cx="652.28" cy="211.26" r="2.2"/><circle cx="654.32" cy="209.77" r="2.2"/><circle cx="656.37" cy="208.28" r="2.2"/><circle cx="658.41" cy="206.79" r="2.2"/><circle cx="660.45" cy="205.29" r="2.2"/><circle cx="662.5" cy="203.79" r="2.2"/><circle cx="664.54" cy="202.3" r="2.2"/><circle cx="666.59" cy="200.8" r="2.2"/><circle cx="668.63" cy="199.31" r="2.2"/><circle cx="670.68" cy="197.82" r="2.2"/><circle cx="672.72" cy="196.33" r="2.2"/><circle cx="674.77" cy="194.85" r="2.2"/><circle cx="676.81" cy="193.37" r="2.2"/><circle cx="678.86" cy="191.89" r="2.2"/><circle cx="680.9" cy="190.41" r="2.2"/><circle cx="682.95" cy="188.94" r="2.2"/><circle cx="684.99" cy="187.47" r="2.2"/><circle cx="687.03" cy="186" r="2.2"/><circle cx="689.08" cy="184.53" r="2.2"/><circle cx="691.12" cy="183.08" r="2.2"/><circle cx="693.17" cy="181.62" r="2.2"/><circle cx="695.21" cy="180.18" r="2.2"/><circle cx="697.26" cy="178.73" r="2.2"/><circle cx="699.3" cy="177.28" r="2.2"/><circle cx="701.35" cy="175.83" r="2.2"/><circle cx="703.39" cy="174.39" r="2.2"/><circle cx="705.44" cy="172.96" r="2.2"/><circle cx="707.48" cy="171.54" r="2.2"/><circle cx="709.52" cy="170.13" r="2.2"/><circle cx="711.57" cy="168.74" r="2.2"/><circle cx="713.61" cy="167.36" r="2.2"/><circle cx="715.66" cy="166" r="2.2"/><circle cx="717.7" cy="164.66" r="2.2"/><circle cx="719.75" cy="163.33" r="2.2"/><circle cx="721.79" cy="162.01" r="2.2"/><circle cx="723.84" cy="160.71" r="2.2"/><circle cx="725.88" cy="159.4" r="2.2"/><circle cx="727.93" cy="158.11" r="2.2"/><circle cx="729.97" cy="156.8" r="2.2"/><circle cx="732.02" cy="155.5" r="2.2"/><circle cx="734.06" cy="154.19" r="2.2"/><circle cx="736.1" cy="152.87" r="2.2"/><circle cx="738.15" cy="151.55" r="2.2"/><circle cx="740.19" cy="150.22" r="2.2"/><circle cx="742.24" cy="148.9" r="2.2"/><circle cx="744.28" cy="147.57" r="2.2"/><circle cx="746.33" cy="146.25" r="2.2"/><circle cx="748.37" cy="144.94" r="2.2"/><circle cx="750.42" cy="143.62" r="2.2"/><circle cx="752.46" cy="142.32" r="2.2"/><circle cx="754.51" cy="141.02" r="2.2"/><circle cx="756.55" cy="139.72" r="2.2"/><circle cx="758.6" cy="138.43" r="2.2"/><circle cx="760.64" cy="137.15" r="2.2"/><circle cx="762.68" cy="135.86" r="2.2"/><circle cx="764.73" cy="134.58" r="2.2"/><circle cx="766.77" cy="133.31" r="2.2"/><circle cx="768.82" cy="132.04" r="2.2"/><circle cx="770.86" cy="130.78" r="2.2"/><circle cx="772.91" cy="129.53" r="2.2"/><circle cx="774.95" cy="128.29" r="2.2"/><circle cx="777" cy="127.05" r="2.2"/><circle cx="779.04" cy="125.82" r="2.2"/><circle cx="781.09" cy="124.59" r="2.2"/><circle cx="783.13" cy="123.37" r="2.2"/><circle cx="785.17" cy="122.15" r="2.2"/><circle cx="787.22" cy="120.95" r="2.2"/><circle cx="789.26" cy="119.75" r="2.2"/><circle cx="791.31" cy="118.56" r="2.2"/><circle cx="793.35" cy="117.38" r="2.2"/><circle cx="795.4" cy="116.21" r="2.2"/><circle cx="797.44" cy="115.06" r="2.2"/><circle cx="799.49" cy="113.91" r="2.2"/><circle cx="801.53" cy="112.77" r="2.2"/><circle cx="803.58" cy="111.64" r="2.2"/><circle cx="805.62" cy="110.52" r="2.2"/><circle cx="807.67" cy="109.41" r="2.2"/><circle cx="809.71" cy="108.3" r="2.2"/><circle cx="811.75" cy="107.2" r="2.2"/><circle cx="813.8" cy="106.11" r="2.2"/><circle cx="815.84" cy="105.02" r="2.2"/><circle cx="817.89" cy="103.94" r="2.2"/><circle cx="819.93" cy="102.86" r="2.2"/><circle cx="821.98" cy="101.79" r="2.2"/><circle cx="824.02" cy="100.73" r="2.2"/><circle cx="826.07" cy="99.67" r="2.2"/><circle cx="828.11" cy="98.62" r="2.2"/><circle cx="830.16" cy="97.58" r="2.2"/><circle cx="832.2" cy="96.54" r="2.2"/></g>
<g fill="#fff" stroke="#ff0000" stroke-width="1.3"><circle cx="836.29" cy="94.48" r="3.3"/></g>
<rect x="519.6" y="87.3" width="327.1" height="203.9" fill="none" stroke="#2a2a2a" stroke-width="1.2"/>
<line x1="529.6" y1="291.2" x2="529.6" y2="286.9" stroke="#2a2a2a" stroke-width="1.0" /><line x1="580.72" y1="291.2" x2="580.72" y2="286.9" stroke="#2a2a2a" stroke-width="1.0" /><line x1="631.83" y1="291.2" x2="631.83" y2="286.9" stroke="#2a2a2a" stroke-width="1.0" /><line x1="682.95" y1="291.2" x2="682.95" y2="286.9" stroke="#2a2a2a" stroke-width="1.0" /><line x1="734.06" y1="291.2" x2="734.06" y2="286.9" stroke="#2a2a2a" stroke-width="1.0" /><line x1="785.17" y1="291.2" x2="785.17" y2="286.9" stroke="#2a2a2a" stroke-width="1.0" /><line x1="836.29" y1="291.2" x2="836.29" y2="286.9" stroke="#2a2a2a" stroke-width="1.0" />
<line x1="555.16" y1="291.2" x2="555.16" y2="288.6" stroke="#2a2a2a" stroke-width="1.0" /><line x1="606.27" y1="291.2" x2="606.27" y2="288.6" stroke="#2a2a2a" stroke-width="1.0" /><line x1="657.39" y1="291.2" x2="657.39" y2="288.6" stroke="#2a2a2a" stroke-width="1.0" /><line x1="708.5" y1="291.2" x2="708.5" y2="288.6" stroke="#2a2a2a" stroke-width="1.0" /><line x1="759.62" y1="291.2" x2="759.62" y2="288.6" stroke="#2a2a2a" stroke-width="1.0" /><line x1="810.73" y1="291.2" x2="810.73" y2="288.6" stroke="#2a2a2a" stroke-width="1.0" />
<line x1="529.6" y1="87.3" x2="529.6" y2="91.6" stroke="#2a2a2a" stroke-width="1.0" /><line x1="580.72" y1="87.3" x2="580.72" y2="91.6" stroke="#2a2a2a" stroke-width="1.0" /><line x1="631.83" y1="87.3" x2="631.83" y2="91.6" stroke="#2a2a2a" stroke-width="1.0" /><line x1="682.95" y1="87.3" x2="682.95" y2="91.6" stroke="#2a2a2a" stroke-width="1.0" /><line x1="734.06" y1="87.3" x2="734.06" y2="91.6" stroke="#2a2a2a" stroke-width="1.0" /><line x1="785.17" y1="87.3" x2="785.17" y2="91.6" stroke="#2a2a2a" stroke-width="1.0" /><line x1="836.29" y1="87.3" x2="836.29" y2="91.6" stroke="#2a2a2a" stroke-width="1.0" />
<line x1="555.16" y1="87.3" x2="555.16" y2="89.9" stroke="#2a2a2a" stroke-width="1.0" /><line x1="606.27" y1="87.3" x2="606.27" y2="89.9" stroke="#2a2a2a" stroke-width="1.0" /><line x1="657.39" y1="87.3" x2="657.39" y2="89.9" stroke="#2a2a2a" stroke-width="1.0" /><line x1="708.5" y1="87.3" x2="708.5" y2="89.9" stroke="#2a2a2a" stroke-width="1.0" /><line x1="759.62" y1="87.3" x2="759.62" y2="89.9" stroke="#2a2a2a" stroke-width="1.0" /><line x1="810.73" y1="87.3" x2="810.73" y2="89.9" stroke="#2a2a2a" stroke-width="1.0" />
<line x1="519.6" y1="280.4" x2="523.9" y2="280.4" stroke="#2a2a2a" stroke-width="1.0" /><line x1="519.6" y1="236.5" x2="523.9" y2="236.5" stroke="#2a2a2a" stroke-width="1.0" /><line x1="519.6" y1="192.6" x2="523.9" y2="192.6" stroke="#2a2a2a" stroke-width="1.0" /><line x1="519.6" y1="148.7" x2="523.9" y2="148.7" stroke="#2a2a2a" stroke-width="1.0" /><line x1="519.6" y1="104.8" x2="523.9" y2="104.8" stroke="#2a2a2a" stroke-width="1.0" />
<line x1="519.6" y1="258.45" x2="522.2" y2="258.45" stroke="#2a2a2a" stroke-width="1.0" /><line x1="519.6" y1="214.55" x2="522.2" y2="214.55" stroke="#2a2a2a" stroke-width="1.0" /><line x1="519.6" y1="170.65" x2="522.2" y2="170.65" stroke="#2a2a2a" stroke-width="1.0" /><line x1="519.6" y1="126.75" x2="522.2" y2="126.75" stroke="#2a2a2a" stroke-width="1.0" />
<text x="529.6" y="303.7" font-family="Liberation Sans, sans-serif" font-size="10.6" text-anchor="middle" fill="#2a2a2a" stroke="#2a2a2a" stroke-width="0.25" >0</text>
<text x="580.72" y="303.7" font-family="Liberation Sans, sans-serif" font-size="10.6" text-anchor="middle" fill="#2a2a2a" stroke="#2a2a2a" stroke-width="0.25" >50</text>
<text x="631.83" y="303.7" font-family="Liberation Sans, sans-serif" font-size="10.6" text-anchor="middle" fill="#2a2a2a" stroke="#2a2a2a" stroke-width="0.25" >100</text>
<text x="682.95" y="303.7" font-family="Liberation Sans, sans-serif" font-size="10.6" text-anchor="middle" fill="#2a2a2a" stroke="#2a2a2a" stroke-width="0.25" >150</text>
<text x="734.06" y="303.7" font-family="Liberation Sans, sans-serif" font-size="10.6" text-anchor="middle" fill="#2a2a2a" stroke="#2a2a2a" stroke-width="0.25" >200</text>
<text x="785.17" y="303.7" font-family="Liberation Sans, sans-serif" font-size="10.6" text-anchor="middle" fill="#2a2a2a" stroke="#2a2a2a" stroke-width="0.25" >250</text>
<text x="836.29" y="303.7" font-family="Liberation Sans, sans-serif" font-size="10.6" text-anchor="middle" fill="#2a2a2a" stroke="#2a2a2a" stroke-width="0.25" >300</text>
<text x="515.6" y="284.2" font-family="Liberation Sans, sans-serif" font-size="10.6" text-anchor="end" fill="#2a2a2a" stroke="#2a2a2a" stroke-width="0.25" >20</text>
<text x="515.6" y="240.3" font-family="Liberation Sans, sans-serif" font-size="10.6" text-anchor="end" fill="#2a2a2a" stroke="#2a2a2a" stroke-width="0.25" >40</text>
<text x="515.6" y="196.4" font-family="Liberation Sans, sans-serif" font-size="10.6" text-anchor="end" fill="#2a2a2a" stroke="#2a2a2a" stroke-width="0.25" >60</text>
<text x="515.6" y="152.5" font-family="Liberation Sans, sans-serif" font-size="10.6" text-anchor="end" fill="#2a2a2a" stroke="#2a2a2a" stroke-width="0.25" >80</text>
<text x="515.6" y="108.6" font-family="Liberation Sans, sans-serif" font-size="10.6" text-anchor="end" fill="#2a2a2a" stroke="#2a2a2a" stroke-width="0.25" >100</text>
<text x="680" y="320.2" font-family="Liberation Sans, sans-serif" font-size="13" text-anchor="middle" fill="#2a2a2a" stroke="#2a2a2a" stroke-width="0.25" >T (K)</text>
<text transform="translate(495.5 193) rotate(-90)" font-family="Liberation Sans, sans-serif" font-size="12.6" text-anchor="middle" fill="#2a2a2a" stroke="#2a2a2a" stroke-width="0.25">ρ (μΩcm)</text>
<text x="530.5" y="106.3" font-family="Liberation Sans, sans-serif" font-size="12" text-anchor="start" fill="#2a2a2a" stroke="#2a2a2a" stroke-width="0.25" >(a)</text>
<line x1="595.4" y1="343" x2="735.8" y2="390" stroke="#444" stroke-width="1.3" />
<polyline points="542.68,533.72 544.54,530.56 546.37,527.34 548.15,524.05 549.9,520.69 551.61,517.26 553.29,513.76 554.94,510.2 556.55,506.56 558.14,502.86 559.7,499.09 561.23,495.24 562.73,491.33 564.2,487.35 565.65,483.31 567.08,479.19 568.48,475 569.86,470.75 571.22,466.43 572.56,462.03 573.88,457.57 575.17,453.04 576.45,448.45 577.71,443.78 578.95,439.04 580.17,434.24 581.38,429.37 582.57,424.42 583.74,419.41 584.89,414.33 586.03,409.18 587.16,403.97 588.27,398.68 589.37,393.33 590.45,387.9 591.52,382.41 592.58,376.85 593.62,371.22 594.65,365.52 595.67,359.75" fill="none" stroke="#ff2020" stroke-width="1.1" stroke-linejoin="round" />
<g fill="none" stroke="#2a2aff" stroke-width="1.0"><circle cx="542.68" cy="531.32" r="3.8"/><circle cx="546.64" cy="523.16" r="3.8"/><circle cx="550.43" cy="515.07" r="3.8"/><circle cx="554.06" cy="507.08" r="3.8"/><circle cx="557.54" cy="499.21" r="3.8"/><circle cx="560.88" cy="491.47" r="3.8"/><circle cx="564.09" cy="483.88" r="3.8"/><circle cx="567.19" cy="476.45" r="3.8"/><circle cx="570.18" cy="469.18" r="3.8"/><circle cx="573.07" cy="462.07" r="3.8"/><circle cx="575.87" cy="455.08" r="3.8"/><circle cx="578.57" cy="448.07" r="3.8"/><circle cx="581.2" cy="440.96" r="3.8"/><circle cx="583.74" cy="433.65" r="3.8"/><circle cx="586.21" cy="425.67" r="3.8"/><circle cx="588.61" cy="417.34" r="3.8"/><circle cx="590.95" cy="409.34" r="3.8"/><circle cx="593.22" cy="402.22" r="3.8"/><circle cx="595.44" cy="396.12" r="3.8"/><circle cx="597.6" cy="390.56" r="3.8"/><circle cx="599.7" cy="385.47" r="3.8"/><circle cx="601.76" cy="380.78" r="3.8"/><circle cx="603.76" cy="376.37" r="3.8"/><circle cx="605.73" cy="372.22" r="3.8"/><circle cx="607.64" cy="368.5" r="3.8"/><circle cx="609.52" cy="365.4" r="3.8"/><circle cx="611.35" cy="362.73" r="3.8"/><circle cx="613.15" cy="360.57" r="3.8"/><circle cx="614.9" cy="358.96" r="3.8"/><circle cx="616.63" cy="357.5" r="3.8"/><circle cx="617.43" cy="356.95" r="3.8"/><circle cx="618.93" cy="356.31" r="3.8"/><circle cx="620.4" cy="356.24" r="3.8"/><circle cx="621.85" cy="356.24" r="3.8"/><circle cx="623.28" cy="356.24" r="3.8"/><circle cx="624.68" cy="356.24" r="3.8"/><circle cx="626.05" cy="356.24" r="3.8"/><circle cx="627.41" cy="356.34" r="3.8"/><circle cx="628.74" cy="356.56" r="3.8"/><circle cx="630.06" cy="356.88" r="3.8"/><circle cx="631.35" cy="357.25" r="3.8"/><circle cx="632.63" cy="357.66" r="3.8"/><circle cx="633.88" cy="358.07" r="3.8"/><circle cx="635.12" cy="358.47" r="3.8"/><circle cx="636.34" cy="358.82" r="3.8"/><circle cx="637.55" cy="359.14" r="3.8"/><circle cx="638.73" cy="359.46" r="3.8"/><circle cx="639.9" cy="359.78" r="3.8"/><circle cx="641.06" cy="360.1" r="3.8"/><circle cx="642.19" cy="360.42" r="3.8"/><circle cx="643.32" cy="360.74" r="3.8"/><circle cx="644.43" cy="361.05" r="3.8"/><circle cx="645.52" cy="361.37" r="3.8"/><circle cx="646.6" cy="361.68" r="3.8"/><circle cx="647.67" cy="361.99" r="3.8"/><circle cx="648.73" cy="362.3" r="3.8"/><circle cx="649.77" cy="362.61" r="3.8"/><circle cx="650.8" cy="362.91" r="3.8"/><circle cx="651.81" cy="363.22" r="3.8"/><circle cx="652.82" cy="363.52" r="3.8"/><circle cx="653.81" cy="363.82" r="3.8"/><circle cx="654.79" cy="364.13" r="3.8"/><circle cx="655.76" cy="364.43" r="3.8"/><circle cx="656.72" cy="364.72" r="3.8"/><circle cx="657.67" cy="365.02" r="3.8"/><circle cx="658.61" cy="365.31" r="3.8"/><circle cx="659.54" cy="365.6" r="3.8"/><circle cx="660.46" cy="365.88" r="3.8"/><circle cx="661.37" cy="366.16" r="3.8"/><circle cx="662.27" cy="366.44" r="3.8"/><circle cx="663.16" cy="366.71" r="3.8"/><circle cx="664.04" cy="366.97" r="3.8"/><circle cx="664.91" cy="367.23" r="3.8"/><circle cx="665.77" cy="367.49" r="3.8"/><circle cx="666.62" cy="367.75" r="3.8"/><circle cx="667.47" cy="368" r="3.8"/><circle cx="668.31" cy="368.25" r="3.8"/><circle cx="669.14" cy="368.5" r="3.8"/><circle cx="669.96" cy="368.74" r="3.8"/><circle cx="670.77" cy="368.99" r="3.8"/><circle cx="671.58" cy="369.23" r="3.8"/><circle cx="672.38" cy="369.48" r="3.8"/><circle cx="673.17" cy="369.72" r="3.8"/><circle cx="673.95" cy="369.96" r="3.8"/><circle cx="674.73" cy="370.2" r="3.8"/><circle cx="675.5" cy="370.45" r="3.8"/><circle cx="676.26" cy="370.69" r="3.8"/><circle cx="677.01" cy="370.93" r="3.8"/><circle cx="677.76" cy="371.18" r="3.8"/><circle cx="678.51" cy="371.42" r="3.8"/><circle cx="679.24" cy="371.67" r="3.8"/><circle cx="679.97" cy="371.91" r="3.8"/><circle cx="684.27" cy="373.47" r="3.8"/><circle cx="691.44" cy="376.26" r="3.8"/><circle cx="698.05" cy="378.71" r="3.8"/><circle cx="704.19" cy="380.92" r="3.8"/><circle cx="709.92" cy="382.89" r="3.8"/><circle cx="715.29" cy="384.57" r="3.8"/><circle cx="720.34" cy="386.05" r="3.8"/><circle cx="725.1" cy="387.35" r="3.8"/><circle cx="729.62" cy="388.41" r="3.8"/><circle cx="733.91" cy="389.26" r="3.8"/><circle cx="737.99" cy="389.92" r="3.8"/><circle cx="741.89" cy="390.35" r="3.8"/><circle cx="745.62" cy="390.7" r="3.8"/><circle cx="749.19" cy="390.91" r="3.8"/><circle cx="752.61" cy="390.93" r="3.8"/><circle cx="755.91" cy="390.73" r="3.8"/><circle cx="759.08" cy="390.4" r="3.8"/><circle cx="762.14" cy="390.02" r="3.8"/><circle cx="765.1" cy="389.5" r="3.8"/><circle cx="767.95" cy="388.8" r="3.8"/><circle cx="770.71" cy="387.95" r="3.8"/><circle cx="773.39" cy="387" r="3.8"/><circle cx="775.98" cy="385.85" r="3.8"/><circle cx="778.5" cy="384.34" r="3.8"/><circle cx="780.95" cy="382.57" r="3.8"/><circle cx="783.32" cy="380.66" r="3.8"/><circle cx="785.64" cy="378.67" r="3.8"/><circle cx="787.89" cy="376.66" r="3.8"/><circle cx="790.08" cy="374.46" r="3.8"/><circle cx="792.22" cy="372.07" r="3.8"/><circle cx="794.31" cy="369.58" r="3.8"/><circle cx="796.35" cy="367.03" r="3.8"/><circle cx="798.34" cy="364.48" r="3.8"/><circle cx="800.28" cy="361.92" r="3.8"/><circle cx="802.18" cy="359.28" r="3.8"/><circle cx="804.04" cy="356.59" r="3.8"/><circle cx="805.86" cy="353.85" r="3.8"/><circle cx="807.64" cy="351.08" r="3.8"/></g>
<rect x="518.5" y="333.3" width="314.4" height="218.8" fill="none" stroke="#2a2a2a" stroke-width="1.2"/>
<line x1="542.68" y1="552.1" x2="542.68" y2="549.1" stroke="#2a2a2a" stroke-width="1.0" /><line x1="577.3" y1="552.1" x2="577.3" y2="549.1" stroke="#2a2a2a" stroke-width="1.0" /><line x1="601.86" y1="552.1" x2="601.86" y2="549.1" stroke="#2a2a2a" stroke-width="1.0" /><line x1="620.92" y1="552.1" x2="620.92" y2="549.1" stroke="#2a2a2a" stroke-width="1.0" /><line x1="636.48" y1="552.1" x2="636.48" y2="549.1" stroke="#2a2a2a" stroke-width="1.0" /><line x1="649.65" y1="552.1" x2="649.65" y2="549.1" stroke="#2a2a2a" stroke-width="1.0" /><line x1="661.05" y1="552.1" x2="661.05" y2="549.1" stroke="#2a2a2a" stroke-width="1.0" /><line x1="671.1" y1="552.1" x2="671.1" y2="549.1" stroke="#2a2a2a" stroke-width="1.0" /><line x1="739.28" y1="552.1" x2="739.28" y2="549.1" stroke="#2a2a2a" stroke-width="1.0" /><line x1="773.9" y1="552.1" x2="773.9" y2="549.1" stroke="#2a2a2a" stroke-width="1.0" /><line x1="798.46" y1="552.1" x2="798.46" y2="549.1" stroke="#2a2a2a" stroke-width="1.0" /><line x1="817.52" y1="552.1" x2="817.52" y2="549.1" stroke="#2a2a2a" stroke-width="1.0" />
<line x1="542.68" y1="333.3" x2="542.68" y2="336.3" stroke="#2a2a2a" stroke-width="1.0" /><line x1="577.3" y1="333.3" x2="577.3" y2="336.3" stroke="#2a2a2a" stroke-width="1.0" /><line x1="601.86" y1="333.3" x2="601.86" y2="336.3" stroke="#2a2a2a" stroke-width="1.0" /><line x1="620.92" y1="333.3" x2="620.92" y2="336.3" stroke="#2a2a2a" stroke-width="1.0" /><line x1="636.48" y1="333.3" x2="636.48" y2="336.3" stroke="#2a2a2a" stroke-width="1.0" /><line x1="649.65" y1="333.3" x2="649.65" y2="336.3" stroke="#2a2a2a" stroke-width="1.0" /><line x1="661.05" y1="333.3" x2="661.05" y2="336.3" stroke="#2a2a2a" stroke-width="1.0" /><line x1="671.1" y1="333.3" x2="671.1" y2="336.3" stroke="#2a2a2a" stroke-width="1.0" /><line x1="739.28" y1="333.3" x2="739.28" y2="336.3" stroke="#2a2a2a" stroke-width="1.0" /><line x1="773.9" y1="333.3" x2="773.9" y2="336.3" stroke="#2a2a2a" stroke-width="1.0" /><line x1="798.46" y1="333.3" x2="798.46" y2="336.3" stroke="#2a2a2a" stroke-width="1.0" /><line x1="817.52" y1="333.3" x2="817.52" y2="336.3" stroke="#2a2a2a" stroke-width="1.0" />
<line x1="680.1" y1="552.1" x2="680.1" y2="547.1" stroke="#2a2a2a" stroke-width="1.0" />
<line x1="680.1" y1="333.3" x2="680.1" y2="338.3" stroke="#2a2a2a" stroke-width="1.0" />
<line x1="518.5" y1="497.48" x2="523.5" y2="497.48" stroke="#2a2a2a" stroke-width="1.0" /><line x1="518.5" y1="431.99" x2="523.5" y2="431.99" stroke="#2a2a2a" stroke-width="1.0" /><line x1="518.5" y1="366.5" x2="523.5" y2="366.5" stroke="#2a2a2a" stroke-width="1.0" />
<line x1="518.5" y1="530.23" x2="521.5" y2="530.23" stroke="#2a2a2a" stroke-width="1.0" /><line x1="518.5" y1="464.74" x2="521.5" y2="464.74" stroke="#2a2a2a" stroke-width="1.0" /><line x1="518.5" y1="399.25" x2="521.5" y2="399.25" stroke="#2a2a2a" stroke-width="1.0" />
<line x1="832.9" y1="497.48" x2="827.9" y2="497.48" stroke="#2a2a2a" stroke-width="1.0" /><line x1="832.9" y1="431.99" x2="827.9" y2="431.99" stroke="#2a2a2a" stroke-width="1.0" /><line x1="832.9" y1="366.5" x2="827.9" y2="366.5" stroke="#2a2a2a" stroke-width="1.0" />
<line x1="832.9" y1="530.23" x2="829.9" y2="530.23" stroke="#2a2a2a" stroke-width="1.0" /><line x1="832.9" y1="464.74" x2="829.9" y2="464.74" stroke="#2a2a2a" stroke-width="1.0" /><line x1="832.9" y1="399.25" x2="829.9" y2="399.25" stroke="#2a2a2a" stroke-width="1.0" />
<text x="513" y="501.48" font-family="Liberation Sans, sans-serif" font-size="10.8" text-anchor="end" fill="#2a2a2a" stroke="#2a2a2a" stroke-width="0.25" >24</text>
<text x="513" y="435.99" font-family="Liberation Sans, sans-serif" font-size="10.8" text-anchor="end" fill="#2a2a2a" stroke="#2a2a2a" stroke-width="0.25" >27</text>
<text x="513" y="370.5" font-family="Liberation Sans, sans-serif" font-size="10.8" text-anchor="end" fill="#2a2a2a" stroke="#2a2a2a" stroke-width="0.25" >30</text>
<text x="680.5" y="564.2" font-family="Liberation Sans, sans-serif" font-size="10.8" text-anchor="middle" fill="#2a2a2a" stroke="#2a2a2a" stroke-width="0.25" >10</text>
<text x="679.5" y="580.2" font-family="Liberation Sans, sans-serif" font-size="13" text-anchor="middle" fill="#2a2a2a" stroke="#2a2a2a" stroke-width="0.25" >T (K)</text>
<text transform="translate(492.5 439) rotate(-90)" font-family="Liberation Sans, sans-serif" font-size="12.6" text-anchor="middle" fill="#2a2a2a" stroke="#2a2a2a" stroke-width="0.25">ρ (μΩcm)</text>
<text x="528" y="352.6" font-family="Liberation Sans, sans-serif" font-size="12.4" text-anchor="start" fill="#2a2a2a" stroke="#2a2a2a" stroke-width="0.25" >(b)</text>
<line x1="621.3" y1="414" x2="621.3" y2="374.1" stroke="#000" stroke-width="1.1" /><polygon points="621.3,366.6 618.5,375.1 624.1,375.1" fill="#000"/>
<line x1="753.6" y1="456.5" x2="753.6" y2="408.7" stroke="#000" stroke-width="1.1" /><polygon points="753.6,401.2 750.8,409.7 756.4,409.7" fill="#000"/>
<text x="600.3" y="432.6" font-family="Liberation Sans, sans-serif" font-size="12.2" text-anchor="start" fill="#222" stroke="#222" stroke-width="0.25" >T<tspan font-size="8.4" dy="3">N</tspan><tspan dy="-3"> = 4.8 K</tspan></text>
<text x="729.4" y="473.4" font-family="Liberation Sans, sans-serif" font-size="12.2" text-anchor="start" fill="#222" stroke="#222" stroke-width="0.25" >T<tspan font-size="8.4" dy="3">min</tspan><tspan dy="-3">= 23 K</tspan></text>
</g></svg>
<div class="ln" style="left:50.30px;top:441.34px;letter-spacing:0.206px;word-spacing:0.124px;"><span>This peak shifts to lower temperatures (3.3 K) when the magnetic</span></div>
<div class="ln" style="left:50.30px;top:457.60px;letter-spacing:0.074px;word-spacing:-0.900px;"><span>field increases up to 15 kOe, and to higher temperatures (5.8 K) with</span></div>
<div class="ln" style="left:50.30px;top:473.87px;letter-spacing:0.206px;word-spacing:0.878px;"><span>it's further increase, as presented for 50 kOe, which is consistent</span></div>
<div class="ln" style="left:50.30px;top:490.13px;letter-spacing:0.206px;word-spacing:2.521px;"><span>with an antiferromagnetic behaviour and a field-induced ferro-</span></div>
<div class="ln" style="left:50.30px;top:506.40px;letter-spacing:0.206px;word-spacing:0.454px;"><span>magnetic order, as observed from the DC-magnetic susceptibility</span></div>
<div class="ln" style="left:50.30px;top:522.66px;letter-spacing:0.277px;word-spacing:0.000px;"><span>measurements <span class="lk">[12]</span>.</span></div>
<div class="ln" style="left:68.90px;top:538.93px;letter-spacing:0.206px;word-spacing:1.897px;"><span>The magnetic contribution to the specific heat (<i>c<sub>mag</sub></i>) can be</span></div>
<div class="ln" style="left:50.30px;top:555.19px;letter-spacing:0.206px;word-spacing:3.895px;"><span>obtained by substraction of the electron–phonon contribution,</span></div>
<div class="ln" style="left:50.30px;top:571.46px;letter-spacing:0.009px;word-spacing:-0.900px;"><span>using the values of <i>γ</i> = 33 mJ/mol K<sup>2</sup> and <i>θ<sub>D</sub></i> = 364 K extracted from</span></div>
<div class="ln" style="left:50.30px;top:587.73px;letter-spacing:0.116px;word-spacing:-0.900px;"><span>the fitting of the high temperature data, as presented in <span class="lk">Fig. 2</span>. Using</span></div>
<div class="ln" style="left:50.30px;top:603.99px;letter-spacing:0.206px;word-spacing:2.093px;"><span>the <i>S</i> = 1/2 resonant level model which relates the jump Δ<i>c<sub>mag</sub></i></span></div>
<div class="ln" style="left:50.30px;top:620.25px;letter-spacing:0.206px;word-spacing:1.525px;"><span>with the <i>T<sub>N</sub></i>/<i>T<sub>K</sub></i> ratio, and the value of the jump at the magnetic</span></div>
<div class="ln" style="left:50.30px;top:636.52px;letter-spacing:0.071px;word-spacing:-0.900px;"><span>transition of 5.4 J/mol K, a Kondo temperature <i>T<sub>K</sub></i> = 5 K can be esti-</span></div>
<div class="ln" style="left:50.30px;top:652.78px;letter-spacing:0.206px;word-spacing:-0.809px;"><span>mated <span class="lk">[13]</span>. The magnetic entropy (<i>S<sub>mag</sub></i>) at several magnetic fields</span></div>
<div class="ln" style="left:50.30px;top:669.05px;letter-spacing:0.206px;word-spacing:0.569px;"><span>can also be calculated, using the expression <i>S<sub>mag</sub></i> = <span class="int">∫</span> (<i>c<sub>mag</sub></i>/<i>T</i> )<i>dT</i>,</span></div>
<div class="ln" style="left:50.30px;top:685.31px;letter-spacing:0.206px;word-spacing:0.242px;"><span>and the result is presented in <span class="lk">Fig. 2</span>. It reaches a value of 0.8Rln2</span></div>
<div class="ln" style="left:50.30px;top:701.58px;letter-spacing:0.206px;word-spacing:0.535px;"><span>at the magnetic transition, as expected from the magnetic ground</span></div>
<div class="ln" style="left:50.30px;top:717.84px;letter-spacing:0.206px;word-spacing:1.471px;"><span>state doublet with a reduced value from Rln2 due to the Kondo</span></div>
<div class="ln" style="left:50.30px;top:734.11px;letter-spacing:0.206px;word-spacing:0.173px;"><span>effect, which is in agreement with the estimated value of <i>T<sub>K</sub></i> <span class="lk">[13]</span>.</span></div>
<div class="ln" style="left:50.30px;top:750.38px;letter-spacing:0.206px;word-spacing:1.261px;"><span>Another visible feature is that with the increase of the magnetic</span></div>
<div class="ln" style="left:50.30px;top:766.64px;letter-spacing:0.206px;word-spacing:1.285px;"><span>field, the magnetic entropy smears out, which is consistent with</span></div>
<div class="ln" style="left:50.30px;top:782.90px;letter-spacing:0.206px;word-spacing:1.605px;"><span>the ferromagnetic order. The analysis of the <i>c<sub>mag</sub></i>/<i>T</i> vs <i>T</i> depen-</span></div>
<div class="ln" style="left:50.30px;top:799.17px;letter-spacing:0.206px;word-spacing:3.138px;"><span>dence at low temperatures gives an estimate of the electronic</span></div>
<div class="ln" style="left:469.80px;top:670.44px;letter-spacing:0.161px;word-spacing:-0.900px;"><span>coefficient <i>γ</i><sub>0</sub> = 300 mJ/mol K<sup>2</sup>, thus indicating, a moderate heavy-</span></div>
<div class="ln" style="left:469.80px;top:686.70px;letter-spacing:0.039px;word-spacing:0.000px;"><span>fermion behaviour of the YbNiAl<sub>2</sub> compound.</span></div>
<div class="ln" style="left:488.40px;top:702.97px;letter-spacing:0.184px;word-spacing:-0.900px;"><span>Measurements of the electrical resistivity also give useful infor-</span></div>
<div class="ln" style="left:469.80px;top:719.23px;letter-spacing:0.206px;word-spacing:-0.094px;"><span>mation about the magnetic and Kondo interactions. In <span class="lk">Fig. 3</span>a, the</span></div>
<div class="ln" style="left:469.80px;top:735.50px;letter-spacing:0.206px;word-spacing:1.088px;"><span>temperature dependence of the electrical resistivity is shown. At</span></div>
<div class="ln" style="left:469.80px;top:751.76px;letter-spacing:0.206px;word-spacing:1.562px;"><span>high temperatures, well above the magnetic transition, a typical</span></div>
<div class="ln" style="left:469.80px;top:768.03px;letter-spacing:0.206px;word-spacing:1.985px;"><span>metallic behaviour is observed. However, a deviation from this</span></div>
<div class="ln" style="left:469.80px;top:784.29px;letter-spacing:0.206px;word-spacing:0.936px;"><span>behaviour is clearly seen below 40 K. <span class="lk">Fig. 3</span>b displays details of</span></div>
<div class="ln" style="left:469.80px;top:800.56px;letter-spacing:0.206px;word-spacing:-0.126px;"><span>the low temperature region. A local minimum at 23 K and a maxi-</span></div>
<div class="ln" style="left:469.80px;top:816.82px;letter-spacing:0.132px;word-spacing:-0.900px;"><span>mum near to the magnetic transition at <i>T<sub>N</sub></i> = 4.8 K, are observed. At</span></div>
<div class="ln" style="left:469.80px;top:833.09px;letter-spacing:0.206px;word-spacing:1.255px;"><span>low temperatures below the transition the data is well described</span></div>
<div class="ln" style="left:469.80px;top:849.35px;letter-spacing:0.206px;word-spacing:2.810px;"><span>considering the <i>ρ</i><sub>0</sub> + <i>A</i> T<sup>2</sup> dependence with <i>ρ</i><sub>0</sub> = 19 μΩ cm and</span></div>
<div class="ln" style="left:469.80px;top:865.62px;letter-spacing:0.206px;word-spacing:1.000px;"><span><i>A</i> = 0.81 μΩ cm K<sup>−2</sup>. The first term can be ascribed to the resid-</span></div>
<div class="ln" style="left:469.80px;top:881.88px;letter-spacing:0.206px;word-spacing:-0.510px;"><span>ual resistivity, due to impurities and lattice faults (in a magnetic or</span></div>
<div class="ln" style="left:469.80px;top:898.15px;letter-spacing:0.206px;word-spacing:-0.235px;"><span>nearly magnetic metal this term includes a spin fluctuation contri-</span></div>
<div class="ln" style="left:469.80px;top:914.41px;letter-spacing:0.206px;word-spacing:0.236px;"><span>bution) and the second term is related to electron–electron and/or</span></div>
<div class="ln" style="left:469.80px;top:930.68px;letter-spacing:0.183px;word-spacing:0.000px;"><span>electron–magnon scattering <span class="lk">[14]</span>.</span></div>
<div class="ln" style="left:488.40px;top:946.94px;letter-spacing:0.136px;word-spacing:-0.900px;"><span>In <span class="lk">Fig. 4</span>, the temperature dependence of the electrical resistivity</span></div>
<div class="ln" style="left:469.80px;top:963.21px;letter-spacing:0.206px;word-spacing:0.930px;"><span>at different magnetic fields is presented. In the high temperature</span></div>
<div class="ln" style="left:469.80px;top:979.48px;letter-spacing:0.206px;word-spacing:0.632px;"><span>region for <i>T</i> &gt; 20 K, above the magnetic transition, the electrical</span></div>
<div class="ln" style="left:469.80px;top:995.74px;letter-spacing:0.206px;word-spacing:1.066px;"><span>resistivity rises with the increase of the magnetic field, which is</span></div>
<div class="ln" style="left:469.80px;top:1012.00px;letter-spacing:0.206px;word-spacing:0.732px;"><span>consistent with a metallic behaviour <span class="lk">[15]</span>. However, the opposite</span></div>
<div class="ln" style="left:469.80px;top:1028.27px;letter-spacing:0.206px;word-spacing:-0.358px;"><span>behaviour is observed for lower temperatures where the scattering</span></div>
<div class="ln" style="left:469.80px;top:1044.54px;letter-spacing:0.206px;word-spacing:3.338px;"><span>of electrons with the spin waves is relevant with the appear-</span></div>
<div class="ln" style="left:469.80px;top:1060.80px;letter-spacing:0.206px;word-spacing:1.363px;"><span>ance of magnetic correlations. In addition, the Kondo scattering</span></div>
<div class="ln" style="left:469.80px;top:1077.07px;letter-spacing:0.206px;word-spacing:0.106px;"><span>mechanism may also play an important role <span class="lk">[16]</span>, as follows from</span></div>
<div class="ln" style="left:469.80px;top:1093.33px;letter-spacing:0.206px;word-spacing:-0.720px;"><span>inspection of <span class="lk">Fig. 3</span>b. In order to analyze the magnetic field depen-</span></div>
<div class="ln" style="left:469.80px;top:1109.60px;letter-spacing:0.206px;word-spacing:0.830px;"><span>dence of <i>ρ</i>(<i>T</i>) below the magnetic transition, a fitting of the data</span></div>
<div class="ln" style="left:469.80px;top:1125.86px;letter-spacing:0.206px;word-spacing:0.143px;"><span>with the <i>ρ</i><sub>0</sub> + <i>A</i>(<i>H</i>) T<sup>2</sup> dependence was carried out, and the results</span></div>
<div class="ln" style="left:469.80px;top:1142.12px;letter-spacing:0.206px;word-spacing:0.775px;"><span>are presented in the inset of <span class="lk">Fig. 4</span>. This last result indicates that</span></div>
<div class="cp" style="left:50.30px;top:363.82px;letter-spacing:0.281px;word-spacing:0.252px;"><span><b>Fig. 1.</b> Temperature dependence of the specific heat of the YbNiAl<sub>2</sub> intermetallic.</span></div>
<div class="cp" style="left:50.30px;top:377.02px;letter-spacing:0.281px;word-spacing:0.419px;"><span>The solid line is the result of the fitting considering the electronic, phononic, and</span></div>
<div class="cp" style="left:50.30px;top:390.22px;letter-spacing:0.281px;word-spacing:-0.111px;"><span>crystal field contributions. In the inset, details of the magnetic field dependence of</span></div>
<div class="cp" style="left:50.30px;top:403.42px;letter-spacing:0.330px;word-spacing:0.000px;"><span>the specific heat around the magnetic transition are presented.</span></div>
<div class="cp" style="left:50.30px;top:1119.32px;letter-spacing:0.281px;word-spacing:-0.343px;"><span><b>Fig. 2.</b> Magnetic contribution to the specific heat and field dependence of the mag-</span></div>
<div class="cp" style="left:50.30px;top:1132.52px;letter-spacing:0.281px;word-spacing:1.564px;"><span>netic entropy. At zero field, the magnetic entropy reaches a value near to Rln2</span></div>
<div class="cp" style="left:50.30px;top:1145.72px;letter-spacing:0.279px;word-spacing:0.000px;"><span>characteristic of a doublet ground state.</span></div>
<div class="cp" style="left:469.80px;top:597.72px;letter-spacing:0.281px;word-spacing:0.351px;"><span><b>Fig. 3.</b> (a) Temperature dependence of the electrical resistivity. (b) Details of low</span></div>
<div class="cp" style="left:469.80px;top:610.92px;letter-spacing:0.281px;word-spacing:1.004px;"><span>temperature region with a local minimum around 25 K and a logarithmic depen-</span></div>
<div class="cp" style="left:469.80px;top:624.12px;letter-spacing:0.274px;word-spacing:-0.700px;"><span>dence characteristic of the Kondo effect down to 5 K. The solid line below <i>T<sub>N</sub></i> is a fit</span></div>
<div class="cp" style="left:469.80px;top:637.32px;letter-spacing:0.172px;word-spacing:0.000px;"><span>with a <i>ρ</i><sub>0</sub> + <i>A</i> T<sup>2</sup> dependence.</span></div>
<div class="hd" style="left:50.40px;top:54.82px;letter-spacing:0.240px;word-spacing:0.000px;"><span>276</span></div>
<div class="hd" style="left:295.00px;top:54.82px;letter-spacing:-0.095px;word-spacing:0.000px;"><span><i>D.P. Rojas et al. / Journal of Alloys and Compounds 502 (2010) 275–278</i></span></div>
</body></html>
